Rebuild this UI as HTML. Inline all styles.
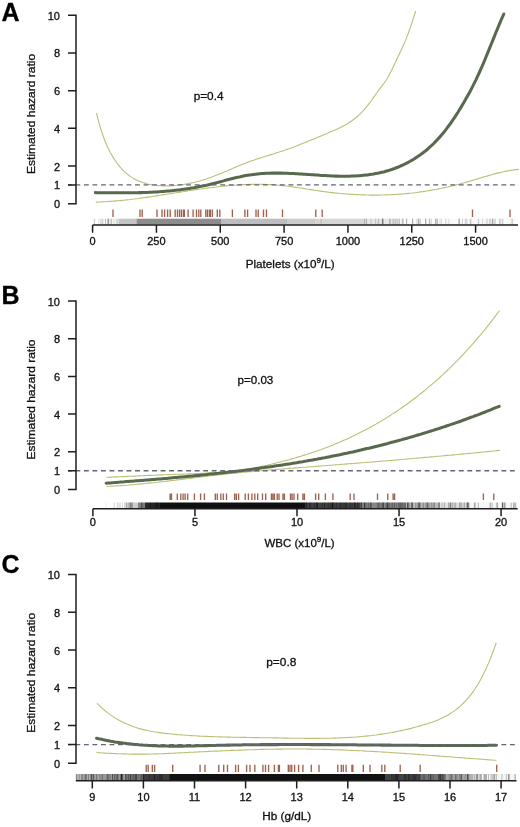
<!DOCTYPE html>
<html><head><meta charset="utf-8"><title>Hazard ratio plots</title>
<style>html,body{margin:0;padding:0;background:#fff;}svg{display:block;will-change:transform;}</style></head>
<body><svg width="520" height="827" viewBox="0 0 520 827">
<rect width="520" height="827" fill="#fff"/>
<text x="1.5" y="21.0" font-family='"Liberation Sans", sans-serif' font-weight="bold" font-size="25" fill="#000" stroke="#000" stroke-width="0.3">A</text>
<path d="M94.61,218.70 V224.50" stroke="#000" stroke-opacity="0.20" stroke-width="0.9"/>
<path d="M102.17,218.70 V224.50" stroke="#000" stroke-opacity="0.13" stroke-width="0.9"/>
<path d="M98.95,218.70 V224.50" stroke="#000" stroke-opacity="0.15" stroke-width="0.9"/>
<path d="M100.82,218.70 V224.50" stroke="#000" stroke-opacity="0.20" stroke-width="0.9"/>
<path d="M94.13,218.70 V224.50" stroke="#000" stroke-opacity="0.10" stroke-width="0.9"/>
<path d="M103.03,218.70 V224.50" stroke="#000" stroke-opacity="0.15" stroke-width="0.9"/>
<path d="M102.15,218.70 V224.50" stroke="#000" stroke-opacity="0.10" stroke-width="0.9"/>
<rect x="105.00" y="218.70" width="14.00" height="5.80" fill="rgb(245,245,245)"/>
<path d="M111.24,218.70 V224.50" stroke="#000" stroke-opacity="0.19" stroke-width="0.9"/>
<path d="M108.20,218.70 V224.50" stroke="#000" stroke-opacity="0.22" stroke-width="0.9"/>
<path d="M117.62,218.70 V224.50" stroke="#000" stroke-opacity="0.10" stroke-width="0.9"/>
<path d="M105.36,218.70 V224.50" stroke="#000" stroke-opacity="0.17" stroke-width="0.9"/>
<path d="M118.15,218.70 V224.50" stroke="#000" stroke-opacity="0.14" stroke-width="0.9"/>
<path d="M108.03,218.70 V224.50" stroke="#000" stroke-opacity="0.15" stroke-width="0.9"/>
<path d="M105.41,218.70 V224.50" stroke="#000" stroke-opacity="0.12" stroke-width="0.9"/>
<path d="M111.13,218.70 V224.50" stroke="#000" stroke-opacity="0.16" stroke-width="0.9"/>
<path d="M108.26,218.70 V224.50" stroke="#000" stroke-opacity="0.13" stroke-width="0.9"/>
<path d="M108.06,218.70 V224.50" stroke="#000" stroke-opacity="0.15" stroke-width="0.9"/>
<path d="M109.06,218.70 V224.50" stroke="#000" stroke-opacity="0.10" stroke-width="0.9"/>
<path d="M116.73,218.70 V224.50" stroke="#000" stroke-opacity="0.17" stroke-width="0.9"/>
<path d="M113.99,218.70 V224.50" stroke="#000" stroke-opacity="0.12" stroke-width="0.9"/>
<rect x="119.00" y="218.70" width="17.50" height="5.80" fill="rgb(196,196,196)"/>
<rect x="136.50" y="218.70" width="84.50" height="5.80" fill="rgb(140,140,140)"/>
<rect x="221.00" y="218.70" width="66.00" height="5.80" fill="rgb(189,189,189)"/>
<rect x="287.00" y="218.70" width="28.00" height="5.80" fill="rgb(204,204,204)"/>
<rect x="315.00" y="218.70" width="50.00" height="5.80" fill="rgb(214,214,214)"/>
<path d="M364.63,218.70 V224.50" stroke="#000" stroke-opacity="0.23" stroke-width="0.9"/>
<path d="M321.04,218.70 V224.50" stroke="#000" stroke-opacity="0.16" stroke-width="0.9"/>
<rect x="365.00" y="218.70" width="35.00" height="5.80" fill="rgb(230,230,230)"/>
<path d="M390.25,218.70 V224.50" stroke="#000" stroke-opacity="0.21" stroke-width="0.9"/>
<path d="M397.78,218.70 V224.50" stroke="#000" stroke-opacity="0.17" stroke-width="0.9"/>
<path d="M394.05,218.70 V224.50" stroke="#000" stroke-opacity="0.20" stroke-width="0.9"/>
<path d="M375.62,218.70 V224.50" stroke="#000" stroke-opacity="0.19" stroke-width="0.9"/>
<path d="M395.89,218.70 V224.50" stroke="#000" stroke-opacity="0.23" stroke-width="0.9"/>
<path d="M382.68,218.70 V224.50" stroke="#000" stroke-opacity="0.19" stroke-width="0.9"/>
<path d="M366.21,218.70 V224.50" stroke="#000" stroke-opacity="0.14" stroke-width="0.9"/>
<path d="M392.91,218.70 V224.50" stroke="#000" stroke-opacity="0.17" stroke-width="0.9"/>
<path d="M371.06,218.70 V224.50" stroke="#000" stroke-opacity="0.19" stroke-width="0.9"/>
<path d="M389.61,218.70 V224.50" stroke="#000" stroke-opacity="0.21" stroke-width="0.9"/>
<path d="M378.11,218.70 V224.50" stroke="#000" stroke-opacity="0.17" stroke-width="0.9"/>
<path d="M382.79,218.70 V224.50" stroke="#000" stroke-opacity="0.22" stroke-width="0.9"/>
<path d="M383.23,218.70 V224.50" stroke="#000" stroke-opacity="0.16" stroke-width="0.9"/>
<path d="M382.14,218.70 V224.50" stroke="#000" stroke-opacity="0.11" stroke-width="0.9"/>
<path d="M366.52,218.70 V224.50" stroke="#000" stroke-opacity="0.21" stroke-width="0.9"/>
<path d="M399.41,218.70 V224.50" stroke="#000" stroke-opacity="0.19" stroke-width="0.9"/>
<path d="M378.78,218.70 V224.50" stroke="#000" stroke-opacity="0.13" stroke-width="0.9"/>
<path d="M382.58,218.70 V224.50" stroke="#000" stroke-opacity="0.25" stroke-width="0.9"/>
<rect x="400.00" y="218.70" width="116.00" height="5.80" fill="rgb(250,250,250)"/>
<path d="M489.38,218.70 V224.50" stroke="#000" stroke-opacity="0.19" stroke-width="0.9"/>
<path d="M499.79,218.70 V224.50" stroke="#000" stroke-opacity="0.14" stroke-width="0.9"/>
<path d="M459.60,218.70 V224.50" stroke="#000" stroke-opacity="0.25" stroke-width="0.9"/>
<path d="M467.02,218.70 V224.50" stroke="#000" stroke-opacity="0.17" stroke-width="0.9"/>
<path d="M431.24,218.70 V224.50" stroke="#000" stroke-opacity="0.19" stroke-width="0.9"/>
<path d="M511.03,218.70 V224.50" stroke="#000" stroke-opacity="0.11" stroke-width="0.9"/>
<path d="M490.90,218.70 V224.50" stroke="#000" stroke-opacity="0.23" stroke-width="0.9"/>
<path d="M502.80,218.70 V224.50" stroke="#000" stroke-opacity="0.21" stroke-width="0.9"/>
<path d="M493.86,218.70 V224.50" stroke="#000" stroke-opacity="0.18" stroke-width="0.9"/>
<path d="M465.12,218.70 V224.50" stroke="#000" stroke-opacity="0.17" stroke-width="0.9"/>
<path d="M406.51,218.70 V224.50" stroke="#000" stroke-opacity="0.23" stroke-width="0.9"/>
<path d="M466.12,218.70 V224.50" stroke="#000" stroke-opacity="0.14" stroke-width="0.9"/>
<path d="M458.55,218.70 V224.50" stroke="#000" stroke-opacity="0.18" stroke-width="0.9"/>
<path d="M441.39,218.70 V224.50" stroke="#000" stroke-opacity="0.16" stroke-width="0.9"/>
<path d="M462.46,218.70 V224.50" stroke="#000" stroke-opacity="0.20" stroke-width="0.9"/>
<path d="M471.04,218.70 V224.50" stroke="#000" stroke-opacity="0.17" stroke-width="0.9"/>
<path d="M403.25,218.70 V224.50" stroke="#000" stroke-opacity="0.14" stroke-width="0.9"/>
<path d="M420.56,218.70 V224.50" stroke="#000" stroke-opacity="0.19" stroke-width="0.9"/>
<path d="M499.88,218.70 V224.50" stroke="#000" stroke-opacity="0.22" stroke-width="0.9"/>
<path d="M492.46,218.70 V224.50" stroke="#000" stroke-opacity="0.23" stroke-width="0.9"/>
<path d="M429.61,218.70 V224.50" stroke="#000" stroke-opacity="0.23" stroke-width="0.9"/>
<path d="M478.08,218.70 V224.50" stroke="#000" stroke-opacity="0.12" stroke-width="0.9"/>
<path d="M401.94,218.70 V224.50" stroke="#000" stroke-opacity="0.11" stroke-width="0.9"/>
<path d="M487.65,218.70 V224.50" stroke="#000" stroke-opacity="0.14" stroke-width="0.9"/>
<path d="M412.70,218.70 V224.50" stroke="#000" stroke-opacity="0.20" stroke-width="0.9"/>
<path d="M439.95,218.70 V224.50" stroke="#000" stroke-opacity="0.12" stroke-width="0.9"/>
<path d="M418.52,218.70 V224.50" stroke="#000" stroke-opacity="0.18" stroke-width="0.9"/>
<path d="M419.50,218.70 V224.50" stroke="#000" stroke-opacity="0.15" stroke-width="0.9"/>
<path d="M482.54,218.70 V224.50" stroke="#000" stroke-opacity="0.17" stroke-width="0.9"/>
<path d="M437.35,218.70 V224.50" stroke="#000" stroke-opacity="0.18" stroke-width="0.9"/>
<path d="M402.74,218.70 V224.50" stroke="#000" stroke-opacity="0.16" stroke-width="0.9"/>
<path d="M448.83,218.70 V224.50" stroke="#000" stroke-opacity="0.14" stroke-width="0.9"/>
<path d="M412.62,218.70 V224.50" stroke="#000" stroke-opacity="0.24" stroke-width="0.9"/>
<path d="M459.17,218.70 V224.50" stroke="#000" stroke-opacity="0.14" stroke-width="0.9"/>
<path d="M470.26,218.70 V224.50" stroke="#000" stroke-opacity="0.23" stroke-width="0.9"/>
<path d="M402.41,218.70 V224.50" stroke="#000" stroke-opacity="0.11" stroke-width="0.9"/>
<path d="M416.99,218.70 V224.50" stroke="#000" stroke-opacity="0.21" stroke-width="0.9"/>
<path d="M418.59,218.70 V224.50" stroke="#000" stroke-opacity="0.21" stroke-width="0.9"/>
<path d="M478.67,218.70 V224.50" stroke="#000" stroke-opacity="0.19" stroke-width="0.9"/>
<path d="M425.59,218.70 V224.50" stroke="#000" stroke-opacity="0.25" stroke-width="0.9"/>
<path d="M492.55,218.70 V224.50" stroke="#000" stroke-opacity="0.18" stroke-width="0.9"/>
<path d="M425.89,218.70 V224.50" stroke="#000" stroke-opacity="0.20" stroke-width="0.9"/>
<path d="M445.81,218.70 V224.50" stroke="#000" stroke-opacity="0.19" stroke-width="0.9"/>
<path d="M437.26,218.70 V224.50" stroke="#000" stroke-opacity="0.20" stroke-width="0.9"/>
<path d="M406.82,218.70 V224.50" stroke="#000" stroke-opacity="0.15" stroke-width="0.9"/>
<path d="M512.28,218.70 V224.50" stroke="#000" stroke-opacity="0.23" stroke-width="0.9"/>
<path d="M435.54,218.70 V224.50" stroke="#000" stroke-opacity="0.23" stroke-width="0.9"/>
<path d="M436.00,218.70 V224.50" stroke="#000" stroke-opacity="0.24" stroke-width="0.9"/>
<path d="M486.29,218.70 V224.50" stroke="#000" stroke-opacity="0.17" stroke-width="0.9"/>
<path d="M429.27,218.70 V224.50" stroke="#000" stroke-opacity="0.11" stroke-width="0.9"/>
<path d="M501.93,218.70 V224.50" stroke="#000" stroke-opacity="0.11" stroke-width="0.9"/>
<path d="M495.05,218.70 V224.50" stroke="#000" stroke-opacity="0.25" stroke-width="0.9"/>
<path d="M113.00,209.40V216.90M140.00,209.40V216.90M142.20,209.40V216.90M157.00,209.40V216.90M162.00,209.40V216.90M164.60,209.40V216.90M167.60,209.40V216.90M170.20,209.40V216.90M175.20,209.40V216.90M177.50,209.40V216.90M179.60,209.40V216.90M181.50,209.40V216.90M183.50,209.40V216.90M184.30,209.40V216.90M188.10,209.40V216.90M193.10,209.40V216.90M196.50,209.40V216.90M198.80,209.40V216.90M200.80,209.40V216.90M205.80,209.40V216.90M207.50,209.40V216.90M209.50,209.40V216.90M210.30,209.40V216.90M212.30,209.40V216.90M217.30,209.40V216.90M219.80,209.40V216.90M232.40,209.40V216.90M244.90,209.40V216.90M247.60,209.40V216.90M256.00,209.40V216.90M258.20,209.40V216.90M263.50,209.40V216.90M266.50,209.40V216.90M282.50,209.40V216.90M315.80,209.40V216.90M322.20,209.40V216.90M472.50,209.40V216.90M510.00,209.40V216.90" stroke="#8e4630" stroke-width="1.35" stroke-opacity="0.85"/>
<path d="M96.50,113.43L98.5,121.1L100.5,128.1L102.5,134.2L104.5,139.7L106.5,144.6L108.5,148.9L110.5,152.8L112.6,156.4L114.6,159.6L116.6,162.5L118.6,165.2L120.6,167.6L122.6,169.8L124.6,171.8L126.6,173.6L128.6,175.2L130.6,176.6L132.6,177.9L134.6,179.0L136.6,180.0L138.6,180.9L140.6,181.7L142.6,182.5L144.7,183.1L146.7,183.7L148.7,184.2L150.7,184.6L152.7,185.0L154.7,185.3L156.7,185.5L158.7,185.7L160.7,185.8L162.7,185.9L164.7,185.9L166.7,185.9L168.7,185.9L170.7,185.8L172.7,185.6L174.7,185.5L176.8,185.3L178.8,185.1L180.8,184.8L182.8,184.6L184.8,184.2L186.8,183.9L188.8,183.5L190.8,183.1L192.8,182.7L194.8,182.3L196.8,181.8L198.8,181.2L200.8,180.7L202.8,180.1L204.8,179.4L206.8,178.8L208.9,178.1L210.9,177.4L212.9,176.6L214.9,175.8L216.9,175.0L218.9,174.2L220.9,173.4L222.9,172.6L224.9,171.7L226.9,170.9L228.9,170.0L230.9,169.2L232.9,168.3L234.9,167.4L236.9,166.6L238.9,165.8L241.0,164.9L243.0,164.1L245.0,163.3L247.0,162.6L249.0,161.8L251.0,161.1L253.0,160.4L255.0,159.7L257.0,159.0L259.0,158.4L261.0,157.7L263.0,157.1L265.0,156.4L267.0,155.8L269.0,155.2L271.0,154.6L273.1,154.0L275.1,153.3L277.1,152.7L279.1,152.1L281.1,151.4L283.1,150.7L285.1,150.1L287.1,149.4L289.1,148.7L291.1,147.9L293.1,147.2L295.1,146.4L297.1,145.7L299.1,144.9L301.1,144.1L303.1,143.3L305.2,142.5L307.2,141.7L309.2,140.8L311.2,140.0L313.2,139.2L315.2,138.4L317.2,137.6L319.2,136.7L321.2,135.9L323.2,135.1L325.2,134.2L327.2,133.4L329.2,132.5L331.2,131.6L333.2,130.8L335.2,129.9L337.3,129.0L339.3,128.0L341.3,127.1L343.3,126.0L345.3,124.9L347.3,123.8L349.3,122.5L351.3,121.2L353.3,119.7L355.3,118.2L357.3,116.5L359.3,114.7L361.3,112.7L363.3,110.6L365.3,108.3L367.3,105.9L369.4,103.2L371.4,100.5L373.4,97.6L375.4,94.8L377.4,92.0L379.4,89.2L381.4,86.6L383.4,84.0L385.4,81.3L387.4,78.2L389.4,74.6L391.4,70.7L393.4,66.5L395.4,62.3L397.4,58.0L399.4,53.7L401.5,49.4L403.5,45.0L405.5,40.4L407.5,35.4L409.5,30.0L411.5,24.1L413.5,17.8L415.5,11.5" fill="none" stroke="#babf74" stroke-width="1.1" stroke-linecap="round"/>
<path d="M96.20,202.11L98.2,202.0L100.2,202.0L102.2,201.9L104.2,201.8L106.2,201.7L108.2,201.5L110.2,201.4L112.2,201.3L114.2,201.1L116.2,200.9L118.2,200.8L120.2,200.6L122.2,200.4L124.2,200.2L126.2,199.9L128.2,199.7L130.2,199.5L132.2,199.2L134.2,199.0L136.2,198.7L138.2,198.5L140.2,198.2L142.2,197.9L144.2,197.7L146.2,197.4L148.2,197.1L150.2,196.8L152.2,196.5L154.2,196.2L156.2,195.9L158.2,195.6L160.2,195.3L162.2,194.9L164.2,194.6L166.2,194.3L168.3,194.0L170.3,193.7L172.3,193.4L174.3,193.0L176.3,192.7L178.3,192.4L180.3,192.1L182.3,191.8L184.3,191.5L186.3,191.1L188.3,190.8L190.3,190.5L192.3,190.2L194.3,189.9L196.3,189.6L198.3,189.3L200.3,189.0L202.3,188.8L204.3,188.5L206.3,188.2L208.3,187.9L210.3,187.7L212.3,187.4L214.3,187.2L216.3,187.0L218.3,186.7L220.3,186.5L222.3,186.3L224.3,186.1L226.3,185.9L228.3,185.7L230.3,185.5L232.3,185.4L234.3,185.2L236.3,185.1L238.3,184.9L240.3,184.8L242.3,184.7L244.3,184.6L246.3,184.5L248.3,184.5L250.3,184.4L252.3,184.4L254.3,184.3L256.3,184.3L258.3,184.3L260.3,184.3L262.3,184.4L264.3,184.4L266.3,184.5L268.3,184.5L270.3,184.6L272.3,184.7L274.3,184.9L276.3,185.0L278.3,185.2L280.3,185.4L282.3,185.6L284.3,185.8L286.3,186.0L288.3,186.3L290.3,186.5L292.3,186.8L294.3,187.1L296.3,187.4L298.3,187.7L300.3,188.0L302.3,188.3L304.3,188.6L306.3,189.0L308.4,189.3L310.4,189.6L312.4,189.9L314.4,190.2L316.4,190.5L318.4,190.8L320.4,191.1L322.4,191.4L324.4,191.7L326.4,191.9L328.4,192.2L330.4,192.4L332.4,192.6L334.4,192.9L336.4,193.1L338.4,193.3L340.4,193.5L342.4,193.7L344.4,193.8L346.4,194.0L348.4,194.1L350.4,194.3L352.4,194.4L354.4,194.5L356.4,194.6L358.4,194.7L360.4,194.8L362.4,194.9L364.4,194.9L366.4,195.0L368.4,195.0L370.4,195.1L372.4,195.1L374.4,195.1L376.4,195.1L378.4,195.1L380.4,195.0L382.4,195.0L384.4,195.0L386.4,194.9L388.4,194.8L390.4,194.7L392.4,194.6L394.4,194.5L396.4,194.4L398.4,194.3L400.4,194.1L402.4,194.0L404.4,193.8L406.4,193.6L408.4,193.4L410.4,193.2L412.4,193.0L414.4,192.7L416.4,192.5L418.4,192.2L420.4,191.9L422.4,191.7L424.4,191.4L426.4,191.0L428.4,190.7L430.4,190.4L432.4,190.0L434.4,189.6L436.4,189.3L438.4,188.9L440.4,188.5L442.4,188.0L444.4,187.6L446.4,187.2L448.5,186.7L450.5,186.3L452.5,185.8L454.5,185.3L456.5,184.8L458.5,184.3L460.5,183.7L462.5,183.2L464.5,182.7L466.5,182.1L468.5,181.5L470.5,181.0L472.5,180.4L474.5,179.8L476.5,179.2L478.5,178.6L480.5,178.0L482.5,177.4L484.5,176.8L486.5,176.2L488.5,175.6L490.5,175.0L492.5,174.5L494.5,173.9L496.5,173.4L498.5,172.9L500.5,172.4L502.5,172.0L504.5,171.5L506.5,171.1L508.5,170.7L510.5,170.4L512.5,170.1L514.5,169.8L516.5,169.6L518.5,169.4" fill="none" stroke="#babf74" stroke-width="1.1" stroke-linecap="round"/>
<path d="M95.40,192.63L97.4,192.7L99.4,192.7L101.4,192.7L103.4,192.7L105.4,192.8L107.4,192.8L109.4,192.8L111.4,192.8L113.4,192.8L115.4,192.8L117.4,192.8L119.4,192.8L121.4,192.8L123.4,192.8L125.4,192.8L127.4,192.8L129.4,192.8L131.4,192.8L133.4,192.8L135.4,192.7L137.4,192.7L139.4,192.6L141.4,192.6L143.4,192.5L145.4,192.5L147.5,192.4L149.5,192.3L151.5,192.2L153.5,192.1L155.5,192.0L157.5,191.9L159.5,191.7L161.5,191.6L163.5,191.5L165.5,191.3L167.5,191.1L169.5,190.9L171.5,190.7L173.5,190.5L175.5,190.3L177.5,190.1L179.5,189.9L181.5,189.6L183.5,189.3L185.5,189.0L187.5,188.7L189.5,188.4L191.5,188.1L193.5,187.8L195.5,187.4L197.5,187.0L199.5,186.6L201.5,186.2L203.5,185.8L205.5,185.4L207.5,184.9L209.5,184.5L211.5,184.0L213.5,183.5L215.5,183.0L217.5,182.4L219.5,181.9L221.5,181.4L223.5,180.9L225.5,180.3L227.5,179.8L229.5,179.3L231.5,178.8L233.5,178.3L235.5,177.8L237.5,177.3L239.5,176.9L241.5,176.4L243.5,176.0L245.5,175.6L247.5,175.3L249.6,175.0L251.6,174.7L253.6,174.4L255.6,174.2L257.6,174.0L259.6,173.8L261.6,173.6L263.6,173.5L265.6,173.3L267.6,173.3L269.6,173.2L271.6,173.1L273.6,173.1L275.6,173.1L277.6,173.1L279.6,173.1L281.6,173.1L283.6,173.2L285.6,173.2L287.6,173.3L289.6,173.4L291.6,173.5L293.6,173.6L295.6,173.7L297.6,173.8L299.6,173.9L301.6,174.0L303.6,174.2L305.6,174.3L307.6,174.4L309.6,174.6L311.6,174.7L313.6,174.8L315.6,175.0L317.6,175.1L319.6,175.3L321.6,175.4L323.6,175.5L325.6,175.6L327.6,175.7L329.6,175.8L331.6,175.9L333.6,176.0L335.6,176.1L337.6,176.1L339.6,176.2L341.6,176.2L343.6,176.2L345.6,176.2L347.6,176.2L349.6,176.2L351.7,176.1L353.7,176.0L355.7,175.9L357.7,175.8L359.7,175.7L361.7,175.5L363.7,175.3L365.7,175.1L367.7,174.9L369.7,174.6L371.7,174.3L373.7,174.0L375.7,173.6L377.7,173.2L379.7,172.8L381.7,172.3L383.7,171.9L385.7,171.3L387.7,170.7L389.7,170.1L391.7,169.5L393.7,168.8L395.7,168.0L397.7,167.3L399.7,166.4L401.7,165.5L403.7,164.6L405.7,163.6L407.7,162.6L409.7,161.5L411.7,160.4L413.7,159.2L415.7,157.9L417.7,156.6L419.7,155.2L421.7,153.8L423.7,152.3L425.7,150.7L427.7,149.0L429.7,147.2L431.7,145.4L433.7,143.5L435.7,141.4L437.7,139.3L439.7,137.1L441.7,134.8L443.7,132.4L445.7,129.9L447.7,127.2L449.7,124.5L451.7,121.6L453.8,118.7L455.8,115.6L457.8,112.5L459.8,109.2L461.8,105.9L463.8,102.6L465.8,99.1L467.8,95.5L469.8,91.9L471.8,88.1L473.8,84.1L475.8,80.1L477.8,75.8L479.8,71.5L481.8,67.0L483.8,62.3L485.8,57.5L487.8,52.6L489.8,47.7L491.8,42.7L493.8,37.8L495.8,32.8L497.8,28.0L499.8,23.2L501.8,18.5L503.8,14.0" fill="none" stroke="#58694d" stroke-width="3.05" stroke-linecap="round"/>
<path d="M68,184.90 H516" stroke="#626677" stroke-width="1.35" stroke-dasharray="4.85 3.67" stroke-dashoffset="1.1"/>
<path d="M68,15.20H76V203.80H68M68,184.94H76M68,166.08H76M68,128.36H76M68,90.64H76M68,52.92H76" fill="none" stroke="#1f1f1f" stroke-width="1.5"/>
<text x="60" y="208.30" text-anchor="end" font-size="11" font-family='"Liberation Sans", sans-serif' fill="#111" stroke="#111" stroke-width="0.32">0</text>
<text x="60" y="189.44" text-anchor="end" font-size="11" font-family='"Liberation Sans", sans-serif' fill="#111" stroke="#111" stroke-width="0.32">1</text>
<text x="60" y="170.58" text-anchor="end" font-size="11" font-family='"Liberation Sans", sans-serif' fill="#111" stroke="#111" stroke-width="0.32">2</text>
<text x="60" y="132.86" text-anchor="end" font-size="11" font-family='"Liberation Sans", sans-serif' fill="#111" stroke="#111" stroke-width="0.32">4</text>
<text x="60" y="95.14" text-anchor="end" font-size="11" font-family='"Liberation Sans", sans-serif' fill="#111" stroke="#111" stroke-width="0.32">6</text>
<text x="60" y="57.42" text-anchor="end" font-size="11" font-family='"Liberation Sans", sans-serif' fill="#111" stroke="#111" stroke-width="0.32">8</text>
<text x="60" y="19.70" text-anchor="end" font-size="11" font-family='"Liberation Sans", sans-serif' fill="#111" stroke="#111" stroke-width="0.32">10</text>
<text transform="translate(35.2,113.90) rotate(-90)" text-anchor="middle" font-size="11.8" font-family='"Liberation Sans", sans-serif' fill="#111" stroke="#111" stroke-width="0.32" textLength="120" lengthAdjust="spacingAndGlyphs">Estimated hazard ratio</text>
<path d="M92.60,225.10H518.00M92.60,225.10V232.70M156.43,225.10V232.70M220.26,225.10V232.70M284.10,225.10V232.70M347.93,225.10V232.70M411.76,225.10V232.70M475.60,225.10V232.70" fill="none" stroke="#1f1f1f" stroke-width="1.5"/>
<text x="92.60" y="244.60" text-anchor="middle" font-size="11" font-family='"Liberation Sans", sans-serif' fill="#111" stroke="#111" stroke-width="0.32">0</text>
<text x="156.43" y="244.60" text-anchor="middle" font-size="11" font-family='"Liberation Sans", sans-serif' fill="#111" stroke="#111" stroke-width="0.32">250</text>
<text x="220.26" y="244.60" text-anchor="middle" font-size="11" font-family='"Liberation Sans", sans-serif' fill="#111" stroke="#111" stroke-width="0.32">500</text>
<text x="284.10" y="244.60" text-anchor="middle" font-size="11" font-family='"Liberation Sans", sans-serif' fill="#111" stroke="#111" stroke-width="0.32">750</text>
<text x="347.93" y="244.60" text-anchor="middle" font-size="11" font-family='"Liberation Sans", sans-serif' fill="#111" stroke="#111" stroke-width="0.32">1000</text>
<text x="411.76" y="244.60" text-anchor="middle" font-size="11" font-family='"Liberation Sans", sans-serif' fill="#111" stroke="#111" stroke-width="0.32">1250</text>
<text x="475.60" y="244.60" text-anchor="middle" font-size="11" font-family='"Liberation Sans", sans-serif' fill="#111" stroke="#111" stroke-width="0.32">1500</text>
<text x="245.7" y="267.5" font-family='"Liberation Sans", sans-serif' font-size="11.7" fill="#111" stroke="#111" stroke-width="0.32">Platelets (x10<tspan font-size="8" dy="-4.3">9</tspan><tspan dy="4.3">/L)</tspan></text>
<text x="193.70" y="99.70" font-size="11.5" font-family='"Liberation Sans", sans-serif' fill="#111" stroke="#111" stroke-width="0.32" textLength="29.80" lengthAdjust="spacingAndGlyphs">p=0.4</text>
<text x="1.5" y="304.2" font-family='"Liberation Sans", sans-serif' font-weight="bold" font-size="25" fill="#000" stroke="#000" stroke-width="0.3">B</text>
<path d="M125.08,502.50 V508.30" stroke="#000" stroke-opacity="0.19" stroke-width="0.9"/>
<path d="M106.19,502.50 V508.30" stroke="#000" stroke-opacity="0.09" stroke-width="0.9"/>
<path d="M122.55,502.50 V508.30" stroke="#000" stroke-opacity="0.17" stroke-width="0.9"/>
<path d="M119.06,502.50 V508.30" stroke="#000" stroke-opacity="0.12" stroke-width="0.9"/>
<path d="M117.72,502.50 V508.30" stroke="#000" stroke-opacity="0.15" stroke-width="0.9"/>
<path d="M117.21,502.50 V508.30" stroke="#000" stroke-opacity="0.10" stroke-width="0.9"/>
<path d="M114.04,502.50 V508.30" stroke="#000" stroke-opacity="0.13" stroke-width="0.9"/>
<path d="M120.18,502.50 V508.30" stroke="#000" stroke-opacity="0.20" stroke-width="0.9"/>
<path d="M124.94,502.50 V508.30" stroke="#000" stroke-opacity="0.14" stroke-width="0.9"/>
<path d="M114.34,502.50 V508.30" stroke="#000" stroke-opacity="0.11" stroke-width="0.9"/>
<rect x="126.00" y="502.50" width="12.00" height="5.80" fill="rgb(204,204,204)"/>
<path d="M126.43,502.50 V508.30" stroke="#000" stroke-opacity="0.19" stroke-width="0.9"/>
<path d="M131.58,502.50 V508.30" stroke="#000" stroke-opacity="0.26" stroke-width="0.9"/>
<path d="M130.56,502.50 V508.30" stroke="#000" stroke-opacity="0.39" stroke-width="0.9"/>
<path d="M132.31,502.50 V508.30" stroke="#000" stroke-opacity="0.31" stroke-width="0.9"/>
<path d="M128.83,502.50 V508.30" stroke="#000" stroke-opacity="0.19" stroke-width="0.9"/>
<path d="M129.90,502.50 V508.30" stroke="#000" stroke-opacity="0.21" stroke-width="0.9"/>
<rect x="138.00" y="502.50" width="7.00" height="5.80" fill="rgb(128,128,128)"/>
<path d="M141.57,502.50 V508.30" stroke="#000" stroke-opacity="0.42" stroke-width="0.9"/>
<path d="M142.72,502.50 V508.30" stroke="#000" stroke-opacity="0.22" stroke-width="0.9"/>
<rect x="145.00" y="502.50" width="15.00" height="5.80" fill="rgb(38,38,38)"/>
<path d="M158.40,502.50 V508.30" stroke="#000" stroke-opacity="0.37" stroke-width="0.9"/>
<path d="M156.02,502.50 V508.30" stroke="#000" stroke-opacity="0.40" stroke-width="0.9"/>
<path d="M156.44,502.50 V508.30" stroke="#000" stroke-opacity="0.37" stroke-width="0.9"/>
<path d="M150.31,502.50 V508.30" stroke="#000" stroke-opacity="0.42" stroke-width="0.9"/>
<rect x="160.00" y="502.50" width="145.00" height="5.80" fill="rgb(15,15,15)"/>
<rect x="305.00" y="502.50" width="55.00" height="5.80" fill="rgb(64,64,64)"/>
<path d="M357.90,502.50 V508.30" stroke="#000" stroke-opacity="0.22" stroke-width="0.9"/>
<path d="M346.47,502.50 V508.30" stroke="#000" stroke-opacity="0.35" stroke-width="0.9"/>
<path d="M330.38,502.50 V508.30" stroke="#000" stroke-opacity="0.31" stroke-width="0.9"/>
<path d="M331.95,502.50 V508.30" stroke="#000" stroke-opacity="0.40" stroke-width="0.9"/>
<path d="M332.55,502.50 V508.30" stroke="#000" stroke-opacity="0.38" stroke-width="0.9"/>
<path d="M324.47,502.50 V508.30" stroke="#000" stroke-opacity="0.39" stroke-width="0.9"/>
<path d="M354.48,502.50 V508.30" stroke="#000" stroke-opacity="0.29" stroke-width="0.9"/>
<path d="M336.22,502.50 V508.30" stroke="#000" stroke-opacity="0.40" stroke-width="0.9"/>
<path d="M344.81,502.50 V508.30" stroke="#000" stroke-opacity="0.30" stroke-width="0.9"/>
<path d="M317.20,502.50 V508.30" stroke="#000" stroke-opacity="0.26" stroke-width="0.9"/>
<path d="M343.48,502.50 V508.30" stroke="#000" stroke-opacity="0.22" stroke-width="0.9"/>
<path d="M354.94,502.50 V508.30" stroke="#000" stroke-opacity="0.24" stroke-width="0.9"/>
<path d="M355.13,502.50 V508.30" stroke="#000" stroke-opacity="0.25" stroke-width="0.9"/>
<path d="M357.65,502.50 V508.30" stroke="#000" stroke-opacity="0.35" stroke-width="0.9"/>
<path d="M332.73,502.50 V508.30" stroke="#000" stroke-opacity="0.30" stroke-width="0.9"/>
<path d="M340.83,502.50 V508.30" stroke="#000" stroke-opacity="0.32" stroke-width="0.9"/>
<path d="M322.15,502.50 V508.30" stroke="#000" stroke-opacity="0.23" stroke-width="0.9"/>
<path d="M333.15,502.50 V508.30" stroke="#000" stroke-opacity="0.40" stroke-width="0.9"/>
<path d="M339.28,502.50 V508.30" stroke="#000" stroke-opacity="0.20" stroke-width="0.9"/>
<path d="M350.12,502.50 V508.30" stroke="#000" stroke-opacity="0.35" stroke-width="0.9"/>
<path d="M354.92,502.50 V508.30" stroke="#000" stroke-opacity="0.23" stroke-width="0.9"/>
<path d="M345.96,502.50 V508.30" stroke="#000" stroke-opacity="0.19" stroke-width="0.9"/>
<path d="M340.91,502.50 V508.30" stroke="#000" stroke-opacity="0.25" stroke-width="0.9"/>
<path d="M317.46,502.50 V508.30" stroke="#000" stroke-opacity="0.39" stroke-width="0.9"/>
<path d="M310.84,502.50 V508.30" stroke="#000" stroke-opacity="0.31" stroke-width="0.9"/>
<path d="M351.97,502.50 V508.30" stroke="#000" stroke-opacity="0.24" stroke-width="0.9"/>
<path d="M316.58,502.50 V508.30" stroke="#000" stroke-opacity="0.39" stroke-width="0.9"/>
<path d="M328.26,502.50 V508.30" stroke="#000" stroke-opacity="0.35" stroke-width="0.9"/>
<path d="M306.75,502.50 V508.30" stroke="#000" stroke-opacity="0.27" stroke-width="0.9"/>
<path d="M314.45,502.50 V508.30" stroke="#000" stroke-opacity="0.34" stroke-width="0.9"/>
<path d="M309.56,502.50 V508.30" stroke="#000" stroke-opacity="0.41" stroke-width="0.9"/>
<path d="M306.39,502.50 V508.30" stroke="#000" stroke-opacity="0.36" stroke-width="0.9"/>
<path d="M306.16,502.50 V508.30" stroke="#000" stroke-opacity="0.24" stroke-width="0.9"/>
<rect x="360.00" y="502.50" width="45.00" height="5.80" fill="rgb(133,133,133)"/>
<path d="M396.60,502.50 V508.30" stroke="#000" stroke-opacity="0.22" stroke-width="0.9"/>
<path d="M368.27,502.50 V508.30" stroke="#000" stroke-opacity="0.35" stroke-width="0.9"/>
<path d="M377.35,502.50 V508.30" stroke="#000" stroke-opacity="0.19" stroke-width="0.9"/>
<path d="M404.55,502.50 V508.30" stroke="#000" stroke-opacity="0.22" stroke-width="0.9"/>
<path d="M361.63,502.50 V508.30" stroke="#000" stroke-opacity="0.26" stroke-width="0.9"/>
<path d="M387.69,502.50 V508.30" stroke="#000" stroke-opacity="0.36" stroke-width="0.9"/>
<path d="M365.09,502.50 V508.30" stroke="#000" stroke-opacity="0.26" stroke-width="0.9"/>
<path d="M361.39,502.50 V508.30" stroke="#000" stroke-opacity="0.29" stroke-width="0.9"/>
<path d="M394.47,502.50 V508.30" stroke="#000" stroke-opacity="0.36" stroke-width="0.9"/>
<path d="M400.59,502.50 V508.30" stroke="#000" stroke-opacity="0.36" stroke-width="0.9"/>
<path d="M398.81,502.50 V508.30" stroke="#000" stroke-opacity="0.35" stroke-width="0.9"/>
<path d="M381.28,502.50 V508.30" stroke="#000" stroke-opacity="0.23" stroke-width="0.9"/>
<path d="M389.74,502.50 V508.30" stroke="#000" stroke-opacity="0.26" stroke-width="0.9"/>
<path d="M364.59,502.50 V508.30" stroke="#000" stroke-opacity="0.29" stroke-width="0.9"/>
<path d="M399.36,502.50 V508.30" stroke="#000" stroke-opacity="0.21" stroke-width="0.9"/>
<path d="M386.32,502.50 V508.30" stroke="#000" stroke-opacity="0.27" stroke-width="0.9"/>
<path d="M383.17,502.50 V508.30" stroke="#000" stroke-opacity="0.21" stroke-width="0.9"/>
<path d="M403.19,502.50 V508.30" stroke="#000" stroke-opacity="0.24" stroke-width="0.9"/>
<path d="M387.27,502.50 V508.30" stroke="#000" stroke-opacity="0.28" stroke-width="0.9"/>
<path d="M360.81,502.50 V508.30" stroke="#000" stroke-opacity="0.31" stroke-width="0.9"/>
<path d="M366.33,502.50 V508.30" stroke="#000" stroke-opacity="0.19" stroke-width="0.9"/>
<path d="M361.51,502.50 V508.30" stroke="#000" stroke-opacity="0.22" stroke-width="0.9"/>
<path d="M364.31,502.50 V508.30" stroke="#000" stroke-opacity="0.33" stroke-width="0.9"/>
<path d="M382.87,502.50 V508.30" stroke="#000" stroke-opacity="0.42" stroke-width="0.9"/>
<path d="M402.04,502.50 V508.30" stroke="#000" stroke-opacity="0.42" stroke-width="0.9"/>
<path d="M370.46,502.50 V508.30" stroke="#000" stroke-opacity="0.29" stroke-width="0.9"/>
<path d="M371.29,502.50 V508.30" stroke="#000" stroke-opacity="0.32" stroke-width="0.9"/>
<path d="M388.09,502.50 V508.30" stroke="#000" stroke-opacity="0.37" stroke-width="0.9"/>
<path d="M391.93,502.50 V508.30" stroke="#000" stroke-opacity="0.24" stroke-width="0.9"/>
<path d="M379.04,502.50 V508.30" stroke="#000" stroke-opacity="0.31" stroke-width="0.9"/>
<path d="M360.22,502.50 V508.30" stroke="#000" stroke-opacity="0.19" stroke-width="0.9"/>
<path d="M378.39,502.50 V508.30" stroke="#000" stroke-opacity="0.21" stroke-width="0.9"/>
<path d="M392.57,502.50 V508.30" stroke="#000" stroke-opacity="0.24" stroke-width="0.9"/>
<path d="M364.49,502.50 V508.30" stroke="#000" stroke-opacity="0.22" stroke-width="0.9"/>
<path d="M370.42,502.50 V508.30" stroke="#000" stroke-opacity="0.23" stroke-width="0.9"/>
<path d="M383.43,502.50 V508.30" stroke="#000" stroke-opacity="0.29" stroke-width="0.9"/>
<rect x="405.00" y="502.50" width="35.00" height="5.80" fill="rgb(186,186,186)"/>
<path d="M415.84,502.50 V508.30" stroke="#000" stroke-opacity="0.33" stroke-width="0.9"/>
<path d="M412.44,502.50 V508.30" stroke="#000" stroke-opacity="0.40" stroke-width="0.9"/>
<path d="M438.71,502.50 V508.30" stroke="#000" stroke-opacity="0.35" stroke-width="0.9"/>
<path d="M420.18,502.50 V508.30" stroke="#000" stroke-opacity="0.30" stroke-width="0.9"/>
<path d="M425.34,502.50 V508.30" stroke="#000" stroke-opacity="0.19" stroke-width="0.9"/>
<path d="M419.63,502.50 V508.30" stroke="#000" stroke-opacity="0.31" stroke-width="0.9"/>
<path d="M411.34,502.50 V508.30" stroke="#000" stroke-opacity="0.20" stroke-width="0.9"/>
<path d="M433.09,502.50 V508.30" stroke="#000" stroke-opacity="0.27" stroke-width="0.9"/>
<path d="M423.17,502.50 V508.30" stroke="#000" stroke-opacity="0.40" stroke-width="0.9"/>
<path d="M426.37,502.50 V508.30" stroke="#000" stroke-opacity="0.25" stroke-width="0.9"/>
<path d="M439.42,502.50 V508.30" stroke="#000" stroke-opacity="0.27" stroke-width="0.9"/>
<path d="M405.67,502.50 V508.30" stroke="#000" stroke-opacity="0.34" stroke-width="0.9"/>
<path d="M408.54,502.50 V508.30" stroke="#000" stroke-opacity="0.25" stroke-width="0.9"/>
<path d="M434.42,502.50 V508.30" stroke="#000" stroke-opacity="0.34" stroke-width="0.9"/>
<path d="M405.55,502.50 V508.30" stroke="#000" stroke-opacity="0.29" stroke-width="0.9"/>
<path d="M419.37,502.50 V508.30" stroke="#000" stroke-opacity="0.30" stroke-width="0.9"/>
<path d="M412.29,502.50 V508.30" stroke="#000" stroke-opacity="0.32" stroke-width="0.9"/>
<path d="M407.58,502.50 V508.30" stroke="#000" stroke-opacity="0.25" stroke-width="0.9"/>
<path d="M418.05,502.50 V508.30" stroke="#000" stroke-opacity="0.40" stroke-width="0.9"/>
<path d="M407.68,502.50 V508.30" stroke="#000" stroke-opacity="0.36" stroke-width="0.9"/>
<path d="M411.73,502.50 V508.30" stroke="#000" stroke-opacity="0.32" stroke-width="0.9"/>
<path d="M418.71,502.50 V508.30" stroke="#000" stroke-opacity="0.29" stroke-width="0.9"/>
<path d="M431.38,502.50 V508.30" stroke="#000" stroke-opacity="0.27" stroke-width="0.9"/>
<path d="M409.26,502.50 V508.30" stroke="#000" stroke-opacity="0.21" stroke-width="0.9"/>
<path d="M407.82,502.50 V508.30" stroke="#000" stroke-opacity="0.38" stroke-width="0.9"/>
<path d="M427.43,502.50 V508.30" stroke="#000" stroke-opacity="0.41" stroke-width="0.9"/>
<path d="M429.24,502.50 V508.30" stroke="#000" stroke-opacity="0.19" stroke-width="0.9"/>
<path d="M428.07,502.50 V508.30" stroke="#000" stroke-opacity="0.37" stroke-width="0.9"/>
<rect x="440.00" y="502.50" width="30.00" height="5.80" fill="rgb(224,224,224)"/>
<path d="M461.71,502.50 V508.30" stroke="#000" stroke-opacity="0.30" stroke-width="0.9"/>
<path d="M450.73,502.50 V508.30" stroke="#000" stroke-opacity="0.29" stroke-width="0.9"/>
<path d="M463.96,502.50 V508.30" stroke="#000" stroke-opacity="0.24" stroke-width="0.9"/>
<path d="M455.79,502.50 V508.30" stroke="#000" stroke-opacity="0.29" stroke-width="0.9"/>
<path d="M468.64,502.50 V508.30" stroke="#000" stroke-opacity="0.37" stroke-width="0.9"/>
<path d="M467.96,502.50 V508.30" stroke="#000" stroke-opacity="0.38" stroke-width="0.9"/>
<path d="M448.90,502.50 V508.30" stroke="#000" stroke-opacity="0.24" stroke-width="0.9"/>
<path d="M454.66,502.50 V508.30" stroke="#000" stroke-opacity="0.24" stroke-width="0.9"/>
<path d="M452.83,502.50 V508.30" stroke="#000" stroke-opacity="0.34" stroke-width="0.9"/>
<path d="M467.56,502.50 V508.30" stroke="#000" stroke-opacity="0.32" stroke-width="0.9"/>
<path d="M464.54,502.50 V508.30" stroke="#000" stroke-opacity="0.20" stroke-width="0.9"/>
<path d="M450.68,502.50 V508.30" stroke="#000" stroke-opacity="0.42" stroke-width="0.9"/>
<path d="M444.40,502.50 V508.30" stroke="#000" stroke-opacity="0.28" stroke-width="0.9"/>
<path d="M442.01,502.50 V508.30" stroke="#000" stroke-opacity="0.20" stroke-width="0.9"/>
<path d="M466.87,502.50 V508.30" stroke="#000" stroke-opacity="0.42" stroke-width="0.9"/>
<path d="M459.44,502.50 V508.30" stroke="#000" stroke-opacity="0.21" stroke-width="0.9"/>
<path d="M448.89,502.50 V508.30" stroke="#000" stroke-opacity="0.24" stroke-width="0.9"/>
<path d="M460.12,502.50 V508.30" stroke="#000" stroke-opacity="0.34" stroke-width="0.9"/>
<rect x="470.00" y="502.50" width="46.00" height="5.80" fill="rgb(247,247,247)"/>
<path d="M490.19,502.50 V508.30" stroke="#000" stroke-opacity="0.31" stroke-width="0.9"/>
<path d="M475.16,502.50 V508.30" stroke="#000" stroke-opacity="0.31" stroke-width="0.9"/>
<path d="M513.70,502.50 V508.30" stroke="#000" stroke-opacity="0.36" stroke-width="0.9"/>
<path d="M474.42,502.50 V508.30" stroke="#000" stroke-opacity="0.30" stroke-width="0.9"/>
<path d="M502.91,502.50 V508.30" stroke="#000" stroke-opacity="0.24" stroke-width="0.9"/>
<path d="M511.17,502.50 V508.30" stroke="#000" stroke-opacity="0.29" stroke-width="0.9"/>
<path d="M502.35,502.50 V508.30" stroke="#000" stroke-opacity="0.28" stroke-width="0.9"/>
<path d="M515.78,502.50 V508.30" stroke="#000" stroke-opacity="0.37" stroke-width="0.9"/>
<path d="M496.38,502.50 V508.30" stroke="#000" stroke-opacity="0.21" stroke-width="0.9"/>
<path d="M490.29,502.50 V508.30" stroke="#000" stroke-opacity="0.19" stroke-width="0.9"/>
<path d="M497.38,502.50 V508.30" stroke="#000" stroke-opacity="0.39" stroke-width="0.9"/>
<path d="M478.30,502.50 V508.30" stroke="#000" stroke-opacity="0.30" stroke-width="0.9"/>
<path d="M492.19,502.50 V508.30" stroke="#000" stroke-opacity="0.28" stroke-width="0.9"/>
<path d="M502.68,502.50 V508.30" stroke="#000" stroke-opacity="0.40" stroke-width="0.9"/>
<path d="M502.45,502.50 V508.30" stroke="#000" stroke-opacity="0.29" stroke-width="0.9"/>
<path d="M514.25,502.50 V508.30" stroke="#000" stroke-opacity="0.26" stroke-width="0.9"/>
<path d="M504.30,502.50 V508.30" stroke="#000" stroke-opacity="0.34" stroke-width="0.9"/>
<path d="M505.03,502.50 V508.30" stroke="#000" stroke-opacity="0.38" stroke-width="0.9"/>
<path d="M170.10,493.40V500.00M171.50,493.40V500.00M177.30,493.40V500.00M180.80,493.40V500.00M183.10,493.40V500.00M185.10,493.40V500.00M187.70,493.40V500.00M194.40,493.40V500.00M200.60,493.40V500.00M204.40,493.40V500.00M215.30,493.40V500.00M217.30,493.40V500.00M220.80,493.40V500.00M223.30,493.40V500.00M226.50,493.40V500.00M234.60,493.40V500.00M236.30,493.40V500.00M238.60,493.40V500.00M245.20,493.40V500.00M248.40,493.40V500.00M251.90,493.40V500.00M254.80,493.40V500.00M257.70,493.40V500.00M262.50,493.40V500.00M265.70,493.40V500.00M271.40,493.40V500.00M272.90,493.40V500.00M274.40,493.40V500.00M277.20,493.40V500.00M279.00,493.40V500.00M282.90,493.40V500.00M284.40,493.40V500.00M290.50,493.40V500.00M292.10,493.40V500.00M294.00,493.40V500.00M297.70,493.40V500.00M302.90,493.40V500.00M304.40,493.40V500.00M315.60,493.40V500.00M318.70,493.40V500.00M325.40,493.40V500.00M332.90,493.40V500.00M350.20,493.40V500.00M354.00,493.40V500.00M377.50,493.40V500.00M387.70,493.40V500.00M393.10,493.40V500.00M394.60,493.40V500.00M483.40,493.40V500.00M493.80,493.40V500.00" stroke="#8e4630" stroke-width="1.35" stroke-opacity="0.85"/>
<path d="M106.90,477.29L108.9,477.2L110.9,477.1L112.9,477.0L114.9,476.9L116.9,476.9L118.9,476.8L120.9,476.7L122.9,476.6L124.9,476.5L126.9,476.4L128.9,476.3L130.9,476.2L132.9,476.2L134.9,476.1L136.9,476.0L138.9,475.9L140.9,475.8L142.9,475.7L144.9,475.6L146.9,475.5L148.9,475.4L150.9,475.4L152.9,475.3L154.9,475.2L156.9,475.1L158.9,475.0L160.9,474.9L162.9,474.9L164.9,474.8L166.9,474.7L168.9,474.6L170.9,474.5L173.0,474.5L175.0,474.4L177.0,474.3L179.0,474.2L181.0,474.2L183.0,474.1L185.0,474.0L187.0,474.0L189.0,473.9L191.0,473.8L193.0,473.7L195.0,473.7L197.0,473.6L199.0,473.5L201.0,473.4L203.0,473.3L205.0,473.2L207.0,473.1L209.0,473.0L211.0,472.9L213.0,472.8L215.0,472.6L217.0,472.5L219.0,472.4L221.0,472.2L223.0,472.0L225.0,471.8L227.0,471.7L229.0,471.5L231.0,471.2L233.0,471.0L235.0,470.8L237.0,470.5L239.0,470.2L241.0,470.0L243.0,469.7L245.0,469.4L247.0,469.0L249.0,468.7L251.0,468.4L253.0,468.0L255.0,467.6L257.0,467.2L259.0,466.9L261.0,466.5L263.0,466.0L265.0,465.6L267.0,465.2L269.0,464.7L271.0,464.3L273.0,463.8L275.0,463.3L277.0,462.8L279.0,462.3L281.0,461.8L283.0,461.3L285.0,460.8L287.0,460.2L289.0,459.7L291.0,459.1L293.0,458.5L295.0,458.0L297.0,457.4L299.0,456.8L301.0,456.2L303.0,455.5L305.1,454.9L307.1,454.3L309.1,453.6L311.1,453.0L313.1,452.3L315.1,451.6L317.1,450.9L319.1,450.2L321.1,449.5L323.1,448.7L325.1,448.0L327.1,447.2L329.1,446.4L331.1,445.7L333.1,444.9L335.1,444.0L337.1,443.2L339.1,442.4L341.1,441.5L343.1,440.6L345.1,439.8L347.1,438.9L349.1,437.9L351.1,437.0L353.1,436.1L355.1,435.1L357.1,434.1L359.1,433.1L361.1,432.1L363.1,431.1L365.1,430.1L367.1,429.0L369.1,427.9L371.1,426.8L373.1,425.7L375.1,424.6L377.1,423.4L379.1,422.3L381.1,421.1L383.1,419.9L385.1,418.7L387.1,417.4L389.1,416.2L391.1,414.9L393.1,413.6L395.1,412.3L397.1,411.0L399.1,409.6L401.1,408.2L403.1,406.8L405.1,405.4L407.1,404.0L409.1,402.5L411.1,401.0L413.1,399.5L415.1,398.0L417.1,396.5L419.1,394.9L421.1,393.3L423.1,391.7L425.1,390.1L427.1,388.4L429.1,386.7L431.1,385.0L433.1,383.3L435.2,381.5L437.2,379.8L439.2,378.0L441.2,376.1L443.2,374.3L445.2,372.4L447.2,370.5L449.2,368.6L451.2,366.6L453.2,364.7L455.2,362.7L457.2,360.6L459.2,358.6L461.2,356.5L463.2,354.4L465.2,352.2L467.2,350.1L469.2,347.9L471.2,345.6L473.2,343.4L475.2,341.1L477.2,338.7L479.2,336.4L481.2,334.0L483.2,331.6L485.2,329.1L487.2,326.6L489.2,324.1L491.2,321.6L493.2,319.0L495.2,316.3L497.2,313.7L499.2,311.0" fill="none" stroke="#babf74" stroke-width="1.1" stroke-linecap="round"/>
<path d="M106.90,486.44L108.9,486.3L110.9,486.2L112.9,486.1L114.9,486.0L116.9,485.9L118.9,485.8L120.9,485.6L122.9,485.5L124.9,485.3L126.9,485.2L128.9,485.0L130.9,484.8L132.9,484.7L134.9,484.5L136.9,484.3L138.9,484.1L140.9,483.9L142.9,483.7L144.9,483.5L147.0,483.3L149.0,483.1L151.0,482.9L153.0,482.7L155.0,482.5L157.0,482.3L159.0,482.0L161.0,481.8L163.0,481.6L165.0,481.3L167.0,481.1L169.0,480.9L171.0,480.6L173.0,480.4L175.0,480.2L177.0,479.9L179.0,479.7L181.0,479.4L183.0,479.2L185.0,478.9L187.0,478.7L189.0,478.4L191.0,478.2L193.0,477.9L195.0,477.7L197.0,477.5L199.0,477.2L201.0,477.0L203.0,476.7L205.0,476.5L207.0,476.2L209.0,476.0L211.0,475.8L213.0,475.5L215.0,475.3L217.0,475.1L219.0,474.8L221.0,474.6L223.0,474.4L225.1,474.2L227.1,474.0L229.1,473.7L231.1,473.5L233.1,473.3L235.1,473.1L237.1,472.9L239.1,472.7L241.1,472.5L243.1,472.3L245.1,472.1L247.1,471.9L249.1,471.8L251.1,471.6L253.1,471.4L255.1,471.2L257.1,471.0L259.1,470.9L261.1,470.7L263.1,470.5L265.1,470.3L267.1,470.2L269.1,470.0L271.1,469.8L273.1,469.7L275.1,469.5L277.1,469.4L279.1,469.2L281.1,469.0L283.1,468.9L285.1,468.7L287.1,468.6L289.1,468.4L291.1,468.2L293.1,468.1L295.1,467.9L297.1,467.8L299.1,467.6L301.1,467.5L303.1,467.3L305.2,467.2L307.2,467.0L309.2,466.9L311.2,466.7L313.2,466.6L315.2,466.4L317.2,466.3L319.2,466.1L321.2,466.0L323.2,465.8L325.2,465.7L327.2,465.5L329.2,465.3L331.2,465.2L333.2,465.0L335.2,464.9L337.2,464.7L339.2,464.6L341.2,464.4L343.2,464.3L345.2,464.1L347.2,463.9L349.2,463.8L351.2,463.6L353.2,463.5L355.2,463.3L357.2,463.1L359.2,463.0L361.2,462.8L363.2,462.7L365.2,462.5L367.2,462.3L369.2,462.2L371.2,462.0L373.2,461.9L375.2,461.7L377.2,461.5L379.2,461.4L381.2,461.2L383.3,461.0L385.3,460.9L387.3,460.7L389.3,460.5L391.3,460.4L393.3,460.2L395.3,460.0L397.3,459.9L399.3,459.7L401.3,459.5L403.3,459.3L405.3,459.2L407.3,459.0L409.3,458.8L411.3,458.7L413.3,458.5L415.3,458.3L417.3,458.1L419.3,458.0L421.3,457.8L423.3,457.6L425.3,457.4L427.3,457.2L429.3,457.1L431.3,456.9L433.3,456.7L435.3,456.5L437.3,456.3L439.3,456.2L441.3,456.0L443.3,455.8L445.3,455.6L447.3,455.4L449.3,455.2L451.3,455.1L453.3,454.9L455.3,454.7L457.3,454.5L459.3,454.3L461.4,454.1L463.4,453.9L465.4,453.7L467.4,453.6L469.4,453.4L471.4,453.2L473.4,453.0L475.4,452.8L477.4,452.6L479.4,452.4L481.4,452.2L483.4,452.0L485.4,451.8L487.4,451.6L489.4,451.4L491.4,451.2L493.4,451.0L495.4,450.8L497.4,450.6L499.4,450.4" fill="none" stroke="#babf74" stroke-width="1.1" stroke-linecap="round"/>
<path d="M106.20,483.16L108.2,483.0L110.2,482.9L112.2,482.7L114.2,482.6L116.2,482.4L118.2,482.2L120.2,482.1L122.2,481.9L124.2,481.8L126.3,481.6L128.3,481.5L130.3,481.3L132.3,481.2L134.3,481.0L136.3,480.8L138.3,480.7L140.3,480.5L142.3,480.4L144.3,480.2L146.3,480.0L148.3,479.9L150.3,479.7L152.3,479.5L154.3,479.4L156.3,479.2L158.3,479.0L160.3,478.9L162.3,478.7L164.3,478.5L166.4,478.4L168.4,478.2L170.4,478.0L172.4,477.8L174.4,477.6L176.4,477.5L178.4,477.3L180.4,477.1L182.4,476.9L184.4,476.7L186.4,476.5L188.4,476.3L190.4,476.2L192.4,476.0L194.4,475.8L196.4,475.6L198.4,475.4L200.4,475.2L202.4,475.0L204.5,474.8L206.5,474.6L208.5,474.3L210.5,474.1L212.5,473.9L214.5,473.7L216.5,473.5L218.5,473.3L220.5,473.0L222.5,472.8L224.5,472.6L226.5,472.4L228.5,472.1L230.5,471.9L232.5,471.7L234.5,471.4L236.5,471.2L238.5,471.0L240.5,470.7L242.5,470.5L244.6,470.2L246.6,470.0L248.6,469.7L250.6,469.4L252.6,469.2L254.6,468.9L256.6,468.6L258.6,468.4L260.6,468.1L262.6,467.8L264.6,467.6L266.6,467.3L268.6,467.0L270.6,466.7L272.6,466.4L274.6,466.1L276.6,465.8L278.6,465.5L280.6,465.2L282.6,464.9L284.7,464.6L286.7,464.3L288.7,464.0L290.7,463.7L292.7,463.3L294.7,463.0L296.7,462.7L298.7,462.3L300.7,462.0L302.7,461.7L304.7,461.3L306.7,461.0L308.7,460.6L310.7,460.3L312.7,459.9L314.7,459.5L316.7,459.2L318.7,458.8L320.7,458.4L322.8,458.0L324.8,457.7L326.8,457.3L328.8,456.9L330.8,456.5L332.8,456.1L334.8,455.7L336.8,455.3L338.8,454.9L340.8,454.5L342.8,454.0L344.8,453.6L346.8,453.2L348.8,452.7L350.8,452.3L352.8,451.9L354.8,451.4L356.8,451.0L358.8,450.5L360.8,450.1L362.9,449.6L364.9,449.1L366.9,448.6L368.9,448.2L370.9,447.7L372.9,447.2L374.9,446.7L376.9,446.2L378.9,445.7L380.9,445.2L382.9,444.7L384.9,444.2L386.9,443.7L388.9,443.1L390.9,442.6L392.9,442.1L394.9,441.5L396.9,441.0L398.9,440.4L400.9,439.9L403.0,439.3L405.0,438.8L407.0,438.2L409.0,437.6L411.0,437.1L413.0,436.5L415.0,435.9L417.0,435.3L419.0,434.7L421.0,434.1L423.0,433.5L425.0,432.9L427.0,432.3L429.0,431.6L431.0,431.0L433.0,430.4L435.0,429.7L437.0,429.1L439.0,428.5L441.1,427.8L443.1,427.1L445.1,426.5L447.1,425.8L449.1,425.1L451.1,424.4L453.1,423.8L455.1,423.1L457.1,422.4L459.1,421.7L461.1,421.0L463.1,420.2L465.1,419.5L467.1,418.8L469.1,418.0L471.1,417.3L473.1,416.6L475.1,415.8L477.1,415.1L479.1,414.3L481.2,413.5L483.2,412.7L485.2,412.0L487.2,411.2L489.2,410.4L491.2,409.6L493.2,408.7L495.2,407.9L497.2,407.1L499.2,406.3" fill="none" stroke="#58694d" stroke-width="3.05" stroke-linecap="round"/>
<path d="M68,470.70 H516" stroke="#626677" stroke-width="1.35" stroke-dasharray="4.85 3.67" stroke-dashoffset="1.1"/>
<path d="M68,301.00H76V489.50H68M68,470.65H76M68,451.80H76M68,414.10H76M68,376.40H76M68,338.70H76" fill="none" stroke="#1f1f1f" stroke-width="1.5"/>
<text x="60" y="494.00" text-anchor="end" font-size="11" font-family='"Liberation Sans", sans-serif' fill="#111" stroke="#111" stroke-width="0.32">0</text>
<text x="60" y="475.15" text-anchor="end" font-size="11" font-family='"Liberation Sans", sans-serif' fill="#111" stroke="#111" stroke-width="0.32">1</text>
<text x="60" y="456.30" text-anchor="end" font-size="11" font-family='"Liberation Sans", sans-serif' fill="#111" stroke="#111" stroke-width="0.32">2</text>
<text x="60" y="418.60" text-anchor="end" font-size="11" font-family='"Liberation Sans", sans-serif' fill="#111" stroke="#111" stroke-width="0.32">4</text>
<text x="60" y="380.90" text-anchor="end" font-size="11" font-family='"Liberation Sans", sans-serif' fill="#111" stroke="#111" stroke-width="0.32">6</text>
<text x="60" y="343.20" text-anchor="end" font-size="11" font-family='"Liberation Sans", sans-serif' fill="#111" stroke="#111" stroke-width="0.32">8</text>
<text x="60" y="305.50" text-anchor="end" font-size="11" font-family='"Liberation Sans", sans-serif' fill="#111" stroke="#111" stroke-width="0.32">10</text>
<text transform="translate(35.2,399.50) rotate(-90)" text-anchor="middle" font-size="11.8" font-family='"Liberation Sans", sans-serif' fill="#111" stroke="#111" stroke-width="0.32" textLength="120" lengthAdjust="spacingAndGlyphs">Estimated hazard ratio</text>
<path d="M92.90,508.70H517.70M92.90,508.70V516.30M194.95,508.70V516.30M297.00,508.70V516.30M399.05,508.70V516.30M501.10,508.70V516.30" fill="none" stroke="#1f1f1f" stroke-width="1.5"/>
<text x="92.90" y="526.30" text-anchor="middle" font-size="11" font-family='"Liberation Sans", sans-serif' fill="#111" stroke="#111" stroke-width="0.32">0</text>
<text x="194.95" y="526.30" text-anchor="middle" font-size="11" font-family='"Liberation Sans", sans-serif' fill="#111" stroke="#111" stroke-width="0.32">5</text>
<text x="297.00" y="526.30" text-anchor="middle" font-size="11" font-family='"Liberation Sans", sans-serif' fill="#111" stroke="#111" stroke-width="0.32">10</text>
<text x="399.05" y="526.30" text-anchor="middle" font-size="11" font-family='"Liberation Sans", sans-serif' fill="#111" stroke="#111" stroke-width="0.32">15</text>
<text x="501.10" y="526.30" text-anchor="middle" font-size="11" font-family='"Liberation Sans", sans-serif' fill="#111" stroke="#111" stroke-width="0.32">20</text>
<text x="264.4" y="546.5" font-family='"Liberation Sans", sans-serif' font-size="11.5" fill="#111" stroke="#111" stroke-width="0.32">WBC (x10<tspan font-size="8" dy="-4.3">9</tspan><tspan dy="4.3">/L)</tspan></text>
<text x="237.50" y="384.00" font-size="11.5" font-family='"Liberation Sans", sans-serif' fill="#111" stroke="#111" stroke-width="0.32" textLength="35.80" lengthAdjust="spacingAndGlyphs">p=0.03</text>
<text x="1.5" y="573.0" font-family='"Liberation Sans", sans-serif' font-weight="bold" font-size="25" fill="#000" stroke="#000" stroke-width="0.3">C</text>
<rect x="76.00" y="774.00" width="24.00" height="6.40" fill="rgb(184,184,184)"/>
<path d="M81.71,774.00 V780.40" stroke="#000" stroke-opacity="0.31" stroke-width="0.9"/>
<path d="M84.88,774.00 V780.40" stroke="#000" stroke-opacity="0.32" stroke-width="0.9"/>
<path d="M91.02,774.00 V780.40" stroke="#000" stroke-opacity="0.20" stroke-width="0.9"/>
<path d="M76.32,774.00 V780.40" stroke="#000" stroke-opacity="0.38" stroke-width="0.9"/>
<path d="M82.22,774.00 V780.40" stroke="#000" stroke-opacity="0.24" stroke-width="0.9"/>
<path d="M99.90,774.00 V780.40" stroke="#000" stroke-opacity="0.29" stroke-width="0.9"/>
<path d="M96.08,774.00 V780.40" stroke="#000" stroke-opacity="0.29" stroke-width="0.9"/>
<path d="M91.34,774.00 V780.40" stroke="#000" stroke-opacity="0.22" stroke-width="0.9"/>
<path d="M91.24,774.00 V780.40" stroke="#000" stroke-opacity="0.39" stroke-width="0.9"/>
<path d="M88.56,774.00 V780.40" stroke="#000" stroke-opacity="0.36" stroke-width="0.9"/>
<path d="M92.11,774.00 V780.40" stroke="#000" stroke-opacity="0.20" stroke-width="0.9"/>
<path d="M94.20,774.00 V780.40" stroke="#000" stroke-opacity="0.32" stroke-width="0.9"/>
<path d="M83.23,774.00 V780.40" stroke="#000" stroke-opacity="0.19" stroke-width="0.9"/>
<path d="M96.77,774.00 V780.40" stroke="#000" stroke-opacity="0.29" stroke-width="0.9"/>
<path d="M93.25,774.00 V780.40" stroke="#000" stroke-opacity="0.39" stroke-width="0.9"/>
<path d="M93.14,774.00 V780.40" stroke="#000" stroke-opacity="0.40" stroke-width="0.9"/>
<path d="M85.48,774.00 V780.40" stroke="#000" stroke-opacity="0.37" stroke-width="0.9"/>
<path d="M86.67,774.00 V780.40" stroke="#000" stroke-opacity="0.40" stroke-width="0.9"/>
<path d="M97.09,774.00 V780.40" stroke="#000" stroke-opacity="0.20" stroke-width="0.9"/>
<path d="M79.26,774.00 V780.40" stroke="#000" stroke-opacity="0.23" stroke-width="0.9"/>
<path d="M99.17,774.00 V780.40" stroke="#000" stroke-opacity="0.28" stroke-width="0.9"/>
<path d="M91.04,774.00 V780.40" stroke="#000" stroke-opacity="0.25" stroke-width="0.9"/>
<rect x="100.00" y="774.00" width="25.00" height="6.40" fill="rgb(153,153,153)"/>
<path d="M112.68,774.00 V780.40" stroke="#000" stroke-opacity="0.27" stroke-width="0.9"/>
<path d="M108.77,774.00 V780.40" stroke="#000" stroke-opacity="0.32" stroke-width="0.9"/>
<path d="M114.61,774.00 V780.40" stroke="#000" stroke-opacity="0.40" stroke-width="0.9"/>
<path d="M117.05,774.00 V780.40" stroke="#000" stroke-opacity="0.40" stroke-width="0.9"/>
<path d="M121.41,774.00 V780.40" stroke="#000" stroke-opacity="0.42" stroke-width="0.9"/>
<path d="M116.78,774.00 V780.40" stroke="#000" stroke-opacity="0.22" stroke-width="0.9"/>
<path d="M121.52,774.00 V780.40" stroke="#000" stroke-opacity="0.41" stroke-width="0.9"/>
<path d="M122.62,774.00 V780.40" stroke="#000" stroke-opacity="0.32" stroke-width="0.9"/>
<path d="M117.85,774.00 V780.40" stroke="#000" stroke-opacity="0.23" stroke-width="0.9"/>
<path d="M120.79,774.00 V780.40" stroke="#000" stroke-opacity="0.32" stroke-width="0.9"/>
<path d="M107.12,774.00 V780.40" stroke="#000" stroke-opacity="0.20" stroke-width="0.9"/>
<path d="M121.35,774.00 V780.40" stroke="#000" stroke-opacity="0.42" stroke-width="0.9"/>
<path d="M102.21,774.00 V780.40" stroke="#000" stroke-opacity="0.37" stroke-width="0.9"/>
<path d="M110.26,774.00 V780.40" stroke="#000" stroke-opacity="0.22" stroke-width="0.9"/>
<path d="M107.35,774.00 V780.40" stroke="#000" stroke-opacity="0.36" stroke-width="0.9"/>
<path d="M121.82,774.00 V780.40" stroke="#000" stroke-opacity="0.19" stroke-width="0.9"/>
<path d="M115.36,774.00 V780.40" stroke="#000" stroke-opacity="0.19" stroke-width="0.9"/>
<path d="M117.96,774.00 V780.40" stroke="#000" stroke-opacity="0.26" stroke-width="0.9"/>
<path d="M122.02,774.00 V780.40" stroke="#000" stroke-opacity="0.42" stroke-width="0.9"/>
<path d="M112.64,774.00 V780.40" stroke="#000" stroke-opacity="0.42" stroke-width="0.9"/>
<rect x="125.00" y="774.00" width="18.00" height="6.40" fill="rgb(115,115,115)"/>
<path d="M130.57,774.00 V780.40" stroke="#000" stroke-opacity="0.20" stroke-width="0.9"/>
<path d="M135.80,774.00 V780.40" stroke="#000" stroke-opacity="0.19" stroke-width="0.9"/>
<path d="M128.55,774.00 V780.40" stroke="#000" stroke-opacity="0.28" stroke-width="0.9"/>
<path d="M135.99,774.00 V780.40" stroke="#000" stroke-opacity="0.22" stroke-width="0.9"/>
<path d="M125.76,774.00 V780.40" stroke="#000" stroke-opacity="0.39" stroke-width="0.9"/>
<path d="M130.65,774.00 V780.40" stroke="#000" stroke-opacity="0.41" stroke-width="0.9"/>
<path d="M141.14,774.00 V780.40" stroke="#000" stroke-opacity="0.27" stroke-width="0.9"/>
<path d="M133.29,774.00 V780.40" stroke="#000" stroke-opacity="0.30" stroke-width="0.9"/>
<path d="M136.59,774.00 V780.40" stroke="#000" stroke-opacity="0.32" stroke-width="0.9"/>
<path d="M135.07,774.00 V780.40" stroke="#000" stroke-opacity="0.33" stroke-width="0.9"/>
<path d="M141.93,774.00 V780.40" stroke="#000" stroke-opacity="0.30" stroke-width="0.9"/>
<rect x="143.00" y="774.00" width="27.00" height="6.40" fill="rgb(61,61,61)"/>
<path d="M154.64,774.00 V780.40" stroke="#000" stroke-opacity="0.35" stroke-width="0.9"/>
<path d="M149.42,774.00 V780.40" stroke="#000" stroke-opacity="0.25" stroke-width="0.9"/>
<path d="M169.40,774.00 V780.40" stroke="#000" stroke-opacity="0.31" stroke-width="0.9"/>
<path d="M157.81,774.00 V780.40" stroke="#000" stroke-opacity="0.18" stroke-width="0.9"/>
<path d="M154.21,774.00 V780.40" stroke="#000" stroke-opacity="0.32" stroke-width="0.9"/>
<path d="M143.54,774.00 V780.40" stroke="#000" stroke-opacity="0.33" stroke-width="0.9"/>
<path d="M160.07,774.00 V780.40" stroke="#000" stroke-opacity="0.19" stroke-width="0.9"/>
<path d="M159.94,774.00 V780.40" stroke="#000" stroke-opacity="0.29" stroke-width="0.9"/>
<path d="M161.34,774.00 V780.40" stroke="#000" stroke-opacity="0.26" stroke-width="0.9"/>
<path d="M162.09,774.00 V780.40" stroke="#000" stroke-opacity="0.36" stroke-width="0.9"/>
<path d="M143.60,774.00 V780.40" stroke="#000" stroke-opacity="0.19" stroke-width="0.9"/>
<rect x="170.00" y="774.00" width="215.00" height="6.40" fill="rgb(18,18,18)"/>
<rect x="385.00" y="774.00" width="35.00" height="6.40" fill="rgb(66,66,66)"/>
<path d="M408.66,774.00 V780.40" stroke="#000" stroke-opacity="0.41" stroke-width="0.9"/>
<path d="M393.79,774.00 V780.40" stroke="#000" stroke-opacity="0.29" stroke-width="0.9"/>
<path d="M405.74,774.00 V780.40" stroke="#000" stroke-opacity="0.26" stroke-width="0.9"/>
<path d="M397.74,774.00 V780.40" stroke="#000" stroke-opacity="0.26" stroke-width="0.9"/>
<path d="M397.92,774.00 V780.40" stroke="#000" stroke-opacity="0.32" stroke-width="0.9"/>
<path d="M395.51,774.00 V780.40" stroke="#000" stroke-opacity="0.27" stroke-width="0.9"/>
<path d="M412.03,774.00 V780.40" stroke="#000" stroke-opacity="0.19" stroke-width="0.9"/>
<path d="M404.92,774.00 V780.40" stroke="#000" stroke-opacity="0.36" stroke-width="0.9"/>
<path d="M395.85,774.00 V780.40" stroke="#000" stroke-opacity="0.23" stroke-width="0.9"/>
<path d="M413.13,774.00 V780.40" stroke="#000" stroke-opacity="0.24" stroke-width="0.9"/>
<path d="M391.56,774.00 V780.40" stroke="#000" stroke-opacity="0.28" stroke-width="0.9"/>
<path d="M409.43,774.00 V780.40" stroke="#000" stroke-opacity="0.20" stroke-width="0.9"/>
<path d="M396.27,774.00 V780.40" stroke="#000" stroke-opacity="0.26" stroke-width="0.9"/>
<path d="M414.17,774.00 V780.40" stroke="#000" stroke-opacity="0.29" stroke-width="0.9"/>
<path d="M414.94,774.00 V780.40" stroke="#000" stroke-opacity="0.22" stroke-width="0.9"/>
<path d="M396.78,774.00 V780.40" stroke="#000" stroke-opacity="0.34" stroke-width="0.9"/>
<path d="M415.97,774.00 V780.40" stroke="#000" stroke-opacity="0.29" stroke-width="0.9"/>
<path d="M392.88,774.00 V780.40" stroke="#000" stroke-opacity="0.21" stroke-width="0.9"/>
<rect x="420.00" y="774.00" width="25.00" height="6.40" fill="rgb(115,115,115)"/>
<path d="M433.24,774.00 V780.40" stroke="#000" stroke-opacity="0.23" stroke-width="0.9"/>
<path d="M440.17,774.00 V780.40" stroke="#000" stroke-opacity="0.38" stroke-width="0.9"/>
<path d="M424.59,774.00 V780.40" stroke="#000" stroke-opacity="0.25" stroke-width="0.9"/>
<path d="M440.18,774.00 V780.40" stroke="#000" stroke-opacity="0.33" stroke-width="0.9"/>
<path d="M440.16,774.00 V780.40" stroke="#000" stroke-opacity="0.26" stroke-width="0.9"/>
<path d="M423.24,774.00 V780.40" stroke="#000" stroke-opacity="0.25" stroke-width="0.9"/>
<path d="M439.85,774.00 V780.40" stroke="#000" stroke-opacity="0.25" stroke-width="0.9"/>
<path d="M428.66,774.00 V780.40" stroke="#000" stroke-opacity="0.28" stroke-width="0.9"/>
<path d="M430.49,774.00 V780.40" stroke="#000" stroke-opacity="0.28" stroke-width="0.9"/>
<path d="M443.02,774.00 V780.40" stroke="#000" stroke-opacity="0.22" stroke-width="0.9"/>
<path d="M420.12,774.00 V780.40" stroke="#000" stroke-opacity="0.41" stroke-width="0.9"/>
<path d="M442.00,774.00 V780.40" stroke="#000" stroke-opacity="0.42" stroke-width="0.9"/>
<path d="M430.86,774.00 V780.40" stroke="#000" stroke-opacity="0.41" stroke-width="0.9"/>
<path d="M443.18,774.00 V780.40" stroke="#000" stroke-opacity="0.23" stroke-width="0.9"/>
<path d="M438.64,774.00 V780.40" stroke="#000" stroke-opacity="0.38" stroke-width="0.9"/>
<rect x="445.00" y="774.00" width="25.00" height="6.40" fill="rgb(166,166,166)"/>
<path d="M461.57,774.00 V780.40" stroke="#000" stroke-opacity="0.30" stroke-width="0.9"/>
<path d="M452.23,774.00 V780.40" stroke="#000" stroke-opacity="0.26" stroke-width="0.9"/>
<path d="M450.69,774.00 V780.40" stroke="#000" stroke-opacity="0.20" stroke-width="0.9"/>
<path d="M459.72,774.00 V780.40" stroke="#000" stroke-opacity="0.25" stroke-width="0.9"/>
<path d="M465.25,774.00 V780.40" stroke="#000" stroke-opacity="0.19" stroke-width="0.9"/>
<path d="M467.59,774.00 V780.40" stroke="#000" stroke-opacity="0.35" stroke-width="0.9"/>
<path d="M468.10,774.00 V780.40" stroke="#000" stroke-opacity="0.40" stroke-width="0.9"/>
<path d="M467.49,774.00 V780.40" stroke="#000" stroke-opacity="0.32" stroke-width="0.9"/>
<path d="M445.33,774.00 V780.40" stroke="#000" stroke-opacity="0.36" stroke-width="0.9"/>
<path d="M449.30,774.00 V780.40" stroke="#000" stroke-opacity="0.25" stroke-width="0.9"/>
<path d="M461.57,774.00 V780.40" stroke="#000" stroke-opacity="0.31" stroke-width="0.9"/>
<path d="M455.34,774.00 V780.40" stroke="#000" stroke-opacity="0.41" stroke-width="0.9"/>
<path d="M460.30,774.00 V780.40" stroke="#000" stroke-opacity="0.26" stroke-width="0.9"/>
<path d="M451.31,774.00 V780.40" stroke="#000" stroke-opacity="0.39" stroke-width="0.9"/>
<path d="M456.93,774.00 V780.40" stroke="#000" stroke-opacity="0.37" stroke-width="0.9"/>
<rect x="470.00" y="774.00" width="12.00" height="6.40" fill="rgb(217,217,217)"/>
<path d="M474.22,774.00 V780.40" stroke="#000" stroke-opacity="0.23" stroke-width="0.9"/>
<path d="M476.42,774.00 V780.40" stroke="#000" stroke-opacity="0.38" stroke-width="0.9"/>
<path d="M472.06,774.00 V780.40" stroke="#000" stroke-opacity="0.37" stroke-width="0.9"/>
<path d="M481.06,774.00 V780.40" stroke="#000" stroke-opacity="0.37" stroke-width="0.9"/>
<path d="M479.88,774.00 V780.40" stroke="#000" stroke-opacity="0.18" stroke-width="0.9"/>
<path d="M477.54,774.00 V780.40" stroke="#000" stroke-opacity="0.39" stroke-width="0.9"/>
<path d="M470.60,774.00 V780.40" stroke="#000" stroke-opacity="0.25" stroke-width="0.9"/>
<rect x="482.00" y="774.00" width="34.00" height="6.40" fill="rgb(245,245,245)"/>
<path d="M491.13,774.00 V780.40" stroke="#000" stroke-opacity="0.31" stroke-width="0.9"/>
<path d="M496.38,774.00 V780.40" stroke="#000" stroke-opacity="0.29" stroke-width="0.9"/>
<path d="M508.40,774.00 V780.40" stroke="#000" stroke-opacity="0.18" stroke-width="0.9"/>
<path d="M483.86,774.00 V780.40" stroke="#000" stroke-opacity="0.21" stroke-width="0.9"/>
<path d="M486.24,774.00 V780.40" stroke="#000" stroke-opacity="0.20" stroke-width="0.9"/>
<path d="M515.14,774.00 V780.40" stroke="#000" stroke-opacity="0.39" stroke-width="0.9"/>
<path d="M484.93,774.00 V780.40" stroke="#000" stroke-opacity="0.30" stroke-width="0.9"/>
<path d="M492.74,774.00 V780.40" stroke="#000" stroke-opacity="0.26" stroke-width="0.9"/>
<path d="M493.94,774.00 V780.40" stroke="#000" stroke-opacity="0.34" stroke-width="0.9"/>
<path d="M501.94,774.00 V780.40" stroke="#000" stroke-opacity="0.27" stroke-width="0.9"/>
<path d="M488.50,774.00 V780.40" stroke="#000" stroke-opacity="0.26" stroke-width="0.9"/>
<path d="M486.21,774.00 V780.40" stroke="#000" stroke-opacity="0.31" stroke-width="0.9"/>
<path d="M506.35,774.00 V780.40" stroke="#000" stroke-opacity="0.27" stroke-width="0.9"/>
<path d="M484.72,774.00 V780.40" stroke="#000" stroke-opacity="0.22" stroke-width="0.9"/>
<path d="M494.69,774.00 V780.40" stroke="#000" stroke-opacity="0.33" stroke-width="0.9"/>
<path d="M508.61,774.00 V780.40" stroke="#000" stroke-opacity="0.27" stroke-width="0.9"/>
<path d="M509.24,774.00 V780.40" stroke="#000" stroke-opacity="0.33" stroke-width="0.9"/>
<path d="M146.25,764.80V771.90M148.20,764.80V771.90M152.30,764.80V771.90M154.60,764.80V771.90M172.70,764.80V771.90M200.10,764.80V771.90M205.00,764.80V771.90M218.80,764.80V771.90M223.70,764.80V771.90M227.50,764.80V771.90M235.60,764.80V771.90M238.40,764.80V771.90M246.60,764.80V771.90M250.00,764.80V771.90M254.80,764.80V771.90M262.90,764.80V771.90M265.50,764.80V771.90M268.60,764.80V771.90M274.40,764.80V771.90M278.40,764.80V771.90M279.40,764.80V771.90M288.30,764.80V771.90M290.00,764.80V771.90M291.70,764.80V771.90M294.60,764.80V771.90M298.60,764.80V771.90M302.90,764.80V771.90M311.30,764.80V771.90M319.00,764.80V771.90M337.80,764.80V771.90M341.30,764.80V771.90M343.30,764.80V771.90M346.10,764.80V771.90M351.90,764.80V771.90M352.80,764.80V771.90M363.30,764.80V771.90M370.00,764.80V771.90M381.80,764.80V771.90M384.80,764.80V771.90M400.20,764.80V771.90M420.20,764.80V771.90M496.70,764.80V771.90" stroke="#8e4630" stroke-width="1.35" stroke-opacity="0.85"/>
<path d="M97.40,703.53L99.4,705.6L101.4,707.5L103.4,709.3L105.4,711.0L107.4,712.6L109.4,714.1L111.4,715.6L113.4,716.9L115.4,718.2L117.4,719.3L119.4,720.5L121.4,721.5L123.4,722.5L125.4,723.4L127.5,724.3L129.5,725.1L131.5,725.9L133.5,726.7L135.5,727.3L137.5,728.0L139.5,728.6L141.5,729.1L143.5,729.6L145.5,730.1L147.5,730.5L149.5,731.0L151.5,731.3L153.5,731.7L155.5,732.0L157.5,732.3L159.5,732.6L161.5,732.9L163.5,733.1L165.5,733.4L167.5,733.6L169.5,733.8L171.5,734.0L173.5,734.2L175.5,734.4L177.5,734.6L179.5,734.7L181.5,734.9L183.6,735.0L185.6,735.2L187.6,735.3L189.6,735.5L191.6,735.6L193.6,735.7L195.6,735.8L197.6,736.0L199.6,736.1L201.6,736.2L203.6,736.3L205.6,736.4L207.6,736.4L209.6,736.5L211.6,736.6L213.6,736.7L215.6,736.8L217.6,736.8L219.6,736.9L221.6,736.9L223.6,737.0L225.6,737.0L227.6,737.1L229.6,737.1L231.6,737.2L233.6,737.2L235.6,737.3L237.6,737.3L239.6,737.3L241.7,737.4L243.7,737.4L245.7,737.4L247.7,737.5L249.7,737.5L251.7,737.5L253.7,737.6L255.7,737.6L257.7,737.6L259.7,737.7L261.7,737.7L263.7,737.7L265.7,737.7L267.7,737.8L269.7,737.8L271.7,737.8L273.7,737.9L275.7,737.9L277.7,737.9L279.7,738.0L281.7,738.0L283.7,738.1L285.7,738.1L287.7,738.1L289.7,738.2L291.7,738.2L293.7,738.2L295.7,738.2L297.8,738.3L299.8,738.3L301.8,738.3L303.8,738.3L305.8,738.4L307.8,738.4L309.8,738.4L311.8,738.4L313.8,738.4L315.8,738.4L317.8,738.4L319.8,738.4L321.8,738.3L323.8,738.3L325.8,738.3L327.8,738.3L329.8,738.2L331.8,738.2L333.8,738.1L335.8,738.1L337.8,738.0L339.8,737.9L341.8,737.8L343.8,737.7L345.8,737.6L347.8,737.5L349.8,737.4L351.8,737.3L353.9,737.2L355.9,737.0L357.9,736.9L359.9,736.7L361.9,736.5L363.9,736.3L365.9,736.1L367.9,735.9L369.9,735.7L371.9,735.5L373.9,735.2L375.9,735.0L377.9,734.7L379.9,734.4L381.9,734.1L383.9,733.8L385.9,733.5L387.9,733.2L389.9,732.8L391.9,732.5L393.9,732.1L395.9,731.7L397.9,731.3L399.9,730.9L401.9,730.4L403.9,730.0L405.9,729.5L407.9,729.1L409.9,728.6L412.0,728.1L414.0,727.5L416.0,727.0L418.0,726.5L420.0,725.9L422.0,725.3L424.0,724.7L426.0,724.1L428.0,723.5L430.0,722.8L432.0,722.2L434.0,721.4L436.0,720.7L438.0,719.9L440.0,719.0L442.0,718.1L444.0,717.1L446.0,716.0L448.0,714.9L450.0,713.7L452.0,712.4L454.0,711.1L456.0,709.6L458.0,708.0L460.0,706.3L462.0,704.5L464.0,702.5L466.0,700.4L468.1,698.2L470.1,695.7L472.1,693.1L474.1,690.3L476.1,687.2L478.1,684.0L480.1,680.5L482.1,676.8L484.1,672.8L486.1,668.6L488.1,664.1L490.1,659.4L492.1,654.3L494.1,648.9L496.1,643.2" fill="none" stroke="#babf74" stroke-width="1.1" stroke-linecap="round"/>
<path d="M96.90,752.55L98.9,752.7L100.9,752.8L102.9,753.0L104.9,753.1L106.9,753.2L108.9,753.3L110.9,753.4L113.0,753.5L115.0,753.6L117.0,753.7L119.0,753.8L121.0,753.8L123.0,753.9L125.0,753.9L127.0,754.0L129.0,754.0L131.0,754.1L133.0,754.1L135.0,754.1L137.0,754.1L139.0,754.1L141.0,754.1L143.1,754.1L145.1,754.1L147.1,754.1L149.1,754.0L151.1,754.0L153.1,754.0L155.1,753.9L157.1,753.9L159.1,753.8L161.1,753.7L163.1,753.7L165.1,753.6L167.1,753.5L169.1,753.4L171.1,753.3L173.1,753.2L175.2,753.1L177.2,753.0L179.2,752.9L181.2,752.8L183.2,752.7L185.2,752.6L187.2,752.5L189.2,752.4L191.2,752.3L193.2,752.2L195.2,752.1L197.2,752.0L199.2,751.9L201.2,751.8L203.2,751.7L205.3,751.6L207.3,751.5L209.3,751.4L211.3,751.3L213.3,751.2L215.3,751.1L217.3,751.1L219.3,751.0L221.3,750.9L223.3,750.8L225.3,750.7L227.3,750.6L229.3,750.5L231.3,750.4L233.3,750.4L235.4,750.3L237.4,750.2L239.4,750.1L241.4,750.1L243.4,750.0L245.4,749.9L247.4,749.8L249.4,749.8L251.4,749.7L253.4,749.7L255.4,749.6L257.4,749.5L259.4,749.5L261.4,749.4L263.4,749.4L265.4,749.3L267.5,749.3L269.5,749.3L271.5,749.2L273.5,749.2L275.5,749.1L277.5,749.1L279.5,749.1L281.5,749.1L283.5,749.0L285.5,749.0L287.5,749.0L289.5,749.0L291.5,749.0L293.5,749.0L295.5,749.0L297.6,749.0L299.6,749.0L301.6,749.0L303.6,749.0L305.6,749.0L307.6,749.1L309.6,749.1L311.6,749.1L313.6,749.2L315.6,749.2L317.6,749.2L319.6,749.3L321.6,749.3L323.6,749.4L325.6,749.4L327.7,749.5L329.7,749.5L331.7,749.6L333.7,749.7L335.7,749.7L337.7,749.8L339.7,749.9L341.7,749.9L343.7,750.0L345.7,750.1L347.7,750.2L349.7,750.3L351.7,750.4L353.7,750.5L355.7,750.5L357.7,750.6L359.8,750.7L361.8,750.8L363.8,750.9L365.8,751.1L367.8,751.2L369.8,751.3L371.8,751.4L373.8,751.5L375.8,751.6L377.8,751.7L379.8,751.8L381.8,752.0L383.8,752.1L385.8,752.2L387.8,752.3L389.9,752.5L391.9,752.6L393.9,752.7L395.9,752.9L397.9,753.0L399.9,753.1L401.9,753.3L403.9,753.4L405.9,753.6L407.9,753.7L409.9,753.8L411.9,754.0L413.9,754.1L415.9,754.3L417.9,754.4L420.0,754.6L422.0,754.7L424.0,754.9L426.0,755.0L428.0,755.2L430.0,755.3L432.0,755.5L434.0,755.6L436.0,755.8L438.0,755.9L440.0,756.1L442.0,756.2L444.0,756.4L446.0,756.5L448.0,756.7L450.0,756.8L452.1,757.0L454.1,757.2L456.1,757.3L458.1,757.5L460.1,757.6L462.1,757.8L464.1,757.9L466.1,758.1L468.1,758.2L470.1,758.4L472.1,758.5L474.1,758.7L476.1,758.8L478.1,759.0L480.1,759.1L482.2,759.3L484.2,759.5L486.2,759.6L488.2,759.7L490.2,759.9L492.2,760.0L494.2,760.2L496.2,760.3" fill="none" stroke="#babf74" stroke-width="1.1" stroke-linecap="round"/>
<path d="M96.60,738.21L98.6,738.7L100.6,739.1L102.6,739.6L104.6,740.0L106.6,740.4L108.6,740.8L110.7,741.2L112.7,741.5L114.7,741.9L116.7,742.2L118.7,742.5L120.7,742.8L122.7,743.1L124.7,743.3L126.7,743.6L128.7,743.8L130.7,744.0L132.7,744.2L134.8,744.4L136.8,744.6L138.8,744.8L140.8,744.9L142.8,745.1L144.8,745.2L146.8,745.3L148.8,745.5L150.8,745.6L152.8,745.7L154.8,745.7L156.8,745.8L158.8,745.9L160.9,745.9L162.9,746.0L164.9,746.0L166.9,746.0L168.9,746.1L170.9,746.1L172.9,746.1L174.9,746.1L176.9,746.1L178.9,746.1L180.9,746.1L182.9,746.1L185.0,746.0L187.0,746.0L189.0,746.0L191.0,746.0L193.0,745.9L195.0,745.9L197.0,745.8L199.0,745.8L201.0,745.7L203.0,745.7L205.0,745.6L207.0,745.6L209.1,745.5L211.1,745.5L213.1,745.4L215.1,745.4L217.1,745.3L219.1,745.3L221.1,745.3L223.1,745.2L225.1,745.2L227.1,745.1L229.1,745.1L231.1,745.0L233.1,745.0L235.2,745.0L237.2,744.9L239.2,744.9L241.2,744.9L243.2,744.8L245.2,744.8L247.2,744.8L249.2,744.8L251.2,744.7L253.2,744.7L255.2,744.7L257.2,744.7L259.3,744.7L261.3,744.6L263.3,744.6L265.3,744.6L267.3,744.6L269.3,744.6L271.3,744.6L273.3,744.6L275.3,744.6L277.3,744.6L279.3,744.5L281.3,744.5L283.3,744.5L285.4,744.5L287.4,744.5L289.4,744.5L291.4,744.5L293.4,744.5L295.4,744.5L297.4,744.5L299.4,744.5L301.4,744.5L303.4,744.5L305.4,744.5L307.4,744.5L309.5,744.5L311.5,744.6L313.5,744.6L315.5,744.6L317.5,744.6L319.5,744.6L321.5,744.6L323.5,744.6L325.5,744.6L327.5,744.6L329.5,744.6L331.5,744.7L333.5,744.7L335.6,744.7L337.6,744.7L339.6,744.7L341.6,744.7L343.6,744.7L345.6,744.8L347.6,744.8L349.6,744.8L351.6,744.8L353.6,744.8L355.6,744.8L357.6,744.9L359.7,744.9L361.7,744.9L363.7,744.9L365.7,744.9L367.7,744.9L369.7,745.0L371.7,745.0L373.7,745.0L375.7,745.0L377.7,745.0L379.7,745.0L381.7,745.1L383.7,745.1L385.8,745.1L387.8,745.1L389.8,745.1L391.8,745.2L393.8,745.2L395.8,745.2L397.8,745.2L399.8,745.2L401.8,745.2L403.8,745.2L405.8,745.3L407.8,745.3L409.9,745.3L411.9,745.3L413.9,745.3L415.9,745.3L417.9,745.3L419.9,745.4L421.9,745.4L423.9,745.4L425.9,745.4L427.9,745.4L429.9,745.4L431.9,745.4L434.0,745.4L436.0,745.4L438.0,745.4L440.0,745.4L442.0,745.5L444.0,745.5L446.0,745.5L448.0,745.5L450.0,745.5L452.0,745.5L454.0,745.5L456.0,745.5L458.0,745.5L460.1,745.5L462.1,745.5L464.1,745.5L466.1,745.5L468.1,745.5L470.1,745.4L472.1,745.4L474.1,745.4L476.1,745.4L478.1,745.4L480.1,745.4L482.1,745.4L484.2,745.4L486.2,745.4L488.2,745.3L490.2,745.3L492.2,745.3L494.2,745.3L496.2,745.3" fill="none" stroke="#58694d" stroke-width="3.05" stroke-linecap="round"/>
<path d="M68,744.60 H516" stroke="#626677" stroke-width="1.35" stroke-dasharray="4.85 3.67" stroke-dashoffset="1.1"/>
<path d="M68,574.60H76V763.30H68M68,744.43H76M68,725.56H76M68,687.82H76M68,650.08H76M68,612.34H76" fill="none" stroke="#1f1f1f" stroke-width="1.5"/>
<text x="60" y="767.80" text-anchor="end" font-size="11" font-family='"Liberation Sans", sans-serif' fill="#111" stroke="#111" stroke-width="0.32">0</text>
<text x="60" y="748.93" text-anchor="end" font-size="11" font-family='"Liberation Sans", sans-serif' fill="#111" stroke="#111" stroke-width="0.32">1</text>
<text x="60" y="730.06" text-anchor="end" font-size="11" font-family='"Liberation Sans", sans-serif' fill="#111" stroke="#111" stroke-width="0.32">2</text>
<text x="60" y="692.32" text-anchor="end" font-size="11" font-family='"Liberation Sans", sans-serif' fill="#111" stroke="#111" stroke-width="0.32">4</text>
<text x="60" y="654.58" text-anchor="end" font-size="11" font-family='"Liberation Sans", sans-serif' fill="#111" stroke="#111" stroke-width="0.32">6</text>
<text x="60" y="616.84" text-anchor="end" font-size="11" font-family='"Liberation Sans", sans-serif' fill="#111" stroke="#111" stroke-width="0.32">8</text>
<text x="60" y="579.10" text-anchor="end" font-size="11" font-family='"Liberation Sans", sans-serif' fill="#111" stroke="#111" stroke-width="0.32">10</text>
<text transform="translate(35.2,672.80) rotate(-90)" text-anchor="middle" font-size="11.8" font-family='"Liberation Sans", sans-serif' fill="#111" stroke="#111" stroke-width="0.32" textLength="120" lengthAdjust="spacingAndGlyphs">Estimated hazard ratio</text>
<path d="M75.80,780.80H516.50M92.30,780.80V788.40M143.40,780.80V788.40M194.50,780.80V788.40M245.60,780.80V788.40M296.70,780.80V788.40M347.80,780.80V788.40M398.90,780.80V788.40M450.00,780.80V788.40M501.10,780.80V788.40" fill="none" stroke="#1f1f1f" stroke-width="1.5"/>
<text x="92.30" y="800.80" text-anchor="middle" font-size="11" font-family='"Liberation Sans", sans-serif' fill="#111" stroke="#111" stroke-width="0.32">9</text>
<text x="143.40" y="800.80" text-anchor="middle" font-size="11" font-family='"Liberation Sans", sans-serif' fill="#111" stroke="#111" stroke-width="0.32">10</text>
<text x="194.50" y="800.80" text-anchor="middle" font-size="11" font-family='"Liberation Sans", sans-serif' fill="#111" stroke="#111" stroke-width="0.32">11</text>
<text x="245.60" y="800.80" text-anchor="middle" font-size="11" font-family='"Liberation Sans", sans-serif' fill="#111" stroke="#111" stroke-width="0.32">12</text>
<text x="296.70" y="800.80" text-anchor="middle" font-size="11" font-family='"Liberation Sans", sans-serif' fill="#111" stroke="#111" stroke-width="0.32">13</text>
<text x="347.80" y="800.80" text-anchor="middle" font-size="11" font-family='"Liberation Sans", sans-serif' fill="#111" stroke="#111" stroke-width="0.32">14</text>
<text x="398.90" y="800.80" text-anchor="middle" font-size="11" font-family='"Liberation Sans", sans-serif' fill="#111" stroke="#111" stroke-width="0.32">15</text>
<text x="450.00" y="800.80" text-anchor="middle" font-size="11" font-family='"Liberation Sans", sans-serif' fill="#111" stroke="#111" stroke-width="0.32">16</text>
<text x="501.10" y="800.80" text-anchor="middle" font-size="11" font-family='"Liberation Sans", sans-serif' fill="#111" stroke="#111" stroke-width="0.32">17</text>
<text x="262.3" y="820.4" font-family='"Liberation Sans", sans-serif' font-size="11.7" fill="#111" stroke="#111" stroke-width="0.32" textLength="48.9" lengthAdjust="spacingAndGlyphs">Hb (g/dL)</text>
<text x="266.25" y="665.70" font-size="11.5" font-family='"Liberation Sans", sans-serif' fill="#111" stroke="#111" stroke-width="0.32" textLength="30.05" lengthAdjust="spacingAndGlyphs">p=0.8</text>
</svg></body></html>
